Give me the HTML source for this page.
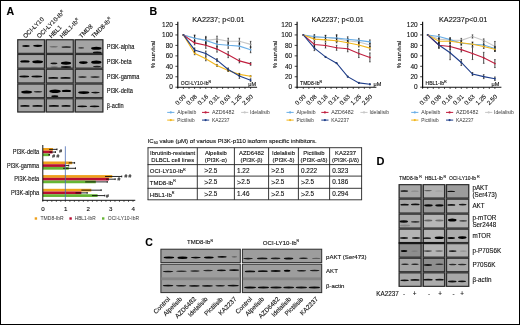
<!DOCTYPE html>
<html><head><meta charset="utf-8"><style>
html,body{margin:0;padding:0;background:#fff;overflow:hidden;}
svg{display:block;font-family:"Liberation Sans", sans-serif;will-change:transform;}
</style></head><body>
<svg width="520" height="325" viewBox="0 0 520 325">
<defs><filter id="bb" x="-20%" y="-100%" width="140%" height="300%"><feGaussianBlur stdDeviation="0.35"/></filter></defs>
<rect x="0" y="0" width="520" height="325" fill="#fff"/>
<rect x="0.50" y="0.50" width="519.00" height="324.00" fill="none" stroke="#000" stroke-width="1"/>
<text x="6.40" y="14.75" font-size="10.6" text-anchor="start" font-weight="bold" fill="#000" stroke="#000" stroke-width="0.12">A</text>
<text x="25.50" y="38.50" font-size="6.1" text-anchor="start" fill="#111" stroke="#111" stroke-width="0.12" transform="rotate(-45 25.50 38.50)">OCI-LY10</text>
<text x="39.30" y="38.50" font-size="6.1" text-anchor="start" fill="#111" stroke="#111" stroke-width="0.12" transform="rotate(-45 39.30 38.50)">OCI-LY10-Ib<tspan dy="-2.4" font-size="3.7">R</tspan></text>
<text x="51.40" y="38.50" font-size="6.1" text-anchor="start" fill="#111" stroke="#111" stroke-width="0.12" transform="rotate(-45 51.40 38.50)">HBL1</text>
<text x="62.30" y="38.50" font-size="6.1" text-anchor="start" fill="#111" stroke="#111" stroke-width="0.12" transform="rotate(-45 62.30 38.50)">HBL1-Ib<tspan dy="-2.4" font-size="3.7">R</tspan></text>
<text x="81.40" y="38.50" font-size="6.1" text-anchor="start" fill="#111" stroke="#111" stroke-width="0.12" transform="rotate(-45 81.40 38.50)">TMD8</text>
<text x="93.70" y="38.50" font-size="6.1" text-anchor="start" fill="#111" stroke="#111" stroke-width="0.12" transform="rotate(-45 93.70 38.50)">TMD8-Ib<tspan dy="-2.4" font-size="3.7">R</tspan></text>
<rect x="17.20" y="39.20" width="86.20" height="73.30" fill="#8c8c8c"/>
<rect x="17.77" y="39.78" width="26.65" height="13.55" fill="#a4a4a4" stroke="#2c2c2c" stroke-width="1.15"/>
<g filter="url(#bb)">
<ellipse cx="26.00" cy="46.00" rx="3.70" ry="0.90" fill="#000" fill-opacity="0.95"/>
<ellipse cx="37.75" cy="45.80" rx="4.55" ry="1.10" fill="#000"/>
</g>
<rect x="46.38" y="39.78" width="26.85" height="13.55" fill="#a4a4a4" stroke="#2c2c2c" stroke-width="1.15"/>
<g filter="url(#bb)">
<ellipse cx="53.75" cy="46.70" rx="4.15" ry="0.75" fill="#000" fill-opacity="0.35"/>
<ellipse cx="66.30" cy="47.00" rx="4.90" ry="0.85" fill="#000" fill-opacity="0.85"/>
</g>
<rect x="75.38" y="39.78" width="27.45" height="13.55" fill="#a4a4a4" stroke="#2c2c2c" stroke-width="1.15"/>
<g filter="url(#bb)">
<ellipse cx="81.15" cy="47.90" rx="3.05" ry="0.80" fill="#000" fill-opacity="0.6"/>
<ellipse cx="96.30" cy="48.20" rx="5.20" ry="1.50" fill="#000"/>
<ellipse cx="97.20" cy="52.40" rx="4.30" ry="0.90" fill="#000" fill-opacity="0.9"/>
</g>
<rect x="17.77" y="54.48" width="26.65" height="13.65" fill="#a4a4a4" stroke="#2c2c2c" stroke-width="1.15"/>
<g filter="url(#bb)">
<ellipse cx="24.95" cy="61.40" rx="4.75" ry="1.20" fill="#000"/>
<ellipse cx="37.65" cy="61.70" rx="5.35" ry="1.50" fill="#000"/>
</g>
<rect x="46.38" y="54.48" width="26.85" height="13.65" fill="#a4a4a4" stroke="#2c2c2c" stroke-width="1.15"/>
<g filter="url(#bb)">
<ellipse cx="53.95" cy="63.40" rx="3.45" ry="0.80" fill="#000" fill-opacity="0.9"/>
<ellipse cx="66.00" cy="63.10" rx="5.20" ry="1.60" fill="#000"/>
<ellipse cx="66.00" cy="67.00" rx="5.20" ry="0.90" fill="#000" fill-opacity="0.85"/>
<ellipse cx="54.25" cy="67.00" rx="3.75" ry="0.70" fill="#000" fill-opacity="0.3"/>
</g>
<rect x="75.38" y="54.48" width="27.45" height="13.65" fill="#a4a4a4" stroke="#2c2c2c" stroke-width="1.15"/>
<g filter="url(#bb)">
<ellipse cx="83.35" cy="62.60" rx="4.35" ry="1.30" fill="#000"/>
<ellipse cx="96.30" cy="62.20" rx="5.20" ry="1.60" fill="#000"/>
<ellipse cx="97.00" cy="66.50" rx="4.00" ry="0.80" fill="#000" fill-opacity="0.8"/>
</g>
<rect x="17.77" y="69.28" width="26.65" height="13.65" fill="#a4a4a4" stroke="#2c2c2c" stroke-width="1.15"/>
<g filter="url(#bb)">
<ellipse cx="24.25" cy="76.50" rx="4.95" ry="0.90" fill="#000" fill-opacity="0.95"/>
<ellipse cx="36.85" cy="76.50" rx="5.45" ry="0.90" fill="#000" fill-opacity="0.95"/>
</g>
<rect x="46.38" y="69.28" width="26.85" height="13.65" fill="#a4a4a4" stroke="#2c2c2c" stroke-width="1.15"/>
<g filter="url(#bb)">
<ellipse cx="53.25" cy="77.90" rx="5.05" ry="0.95" fill="#000" fill-opacity="0.95"/>
<ellipse cx="65.50" cy="77.90" rx="5.20" ry="0.95" fill="#000" fill-opacity="0.95"/>
</g>
<rect x="75.38" y="69.28" width="27.45" height="13.65" fill="#a4a4a4" stroke="#2c2c2c" stroke-width="1.15"/>
<g filter="url(#bb)">
<ellipse cx="82.45" cy="77.00" rx="4.35" ry="0.80" fill="#000" fill-opacity="0.85"/>
<ellipse cx="95.05" cy="77.00" rx="4.75" ry="0.80" fill="#000" fill-opacity="0.85"/>
</g>
<rect x="17.77" y="84.08" width="26.65" height="13.55" fill="#a4a4a4" stroke="#2c2c2c" stroke-width="1.15"/>
<g filter="url(#bb)">
<ellipse cx="26.65" cy="92.10" rx="5.65" ry="1.50" fill="#000"/>
<ellipse cx="38.00" cy="91.70" rx="4.30" ry="0.80" fill="#000" fill-opacity="0.8"/>
</g>
<rect x="46.38" y="84.08" width="26.85" height="13.55" fill="#a4a4a4" stroke="#2c2c2c" stroke-width="1.15"/>
<g filter="url(#bb)">
<ellipse cx="55.05" cy="91.20" rx="5.75" ry="1.80" fill="#000"/>
<ellipse cx="66.45" cy="90.90" rx="4.75" ry="1.20" fill="#000"/>
<ellipse cx="54.80" cy="96.20" rx="3.50" ry="1.00" fill="#000" fill-opacity="0.95"/>
</g>
<rect x="75.38" y="84.08" width="27.45" height="13.55" fill="#a4a4a4" stroke="#2c2c2c" stroke-width="1.15"/>
<g filter="url(#bb)">
<ellipse cx="83.75" cy="92.60" rx="5.65" ry="1.30" fill="#000"/>
<ellipse cx="95.45" cy="92.60" rx="4.35" ry="0.80" fill="#000" fill-opacity="0.9"/>
</g>
<rect x="17.77" y="98.78" width="26.65" height="13.15" fill="#a4a4a4" stroke="#2c2c2c" stroke-width="1.15"/>
<g filter="url(#bb)">
<ellipse cx="24.95" cy="105.90" rx="4.75" ry="0.90" fill="#000" fill-opacity="0.95"/>
<ellipse cx="37.50" cy="105.90" rx="5.20" ry="0.90" fill="#000" fill-opacity="0.95"/>
</g>
<rect x="46.38" y="98.78" width="26.85" height="13.15" fill="#a4a4a4" stroke="#2c2c2c" stroke-width="1.15"/>
<g filter="url(#bb)">
<ellipse cx="53.90" cy="105.90" rx="5.20" ry="0.90" fill="#000" fill-opacity="0.95"/>
<ellipse cx="66.05" cy="105.90" rx="4.65" ry="0.90" fill="#000" fill-opacity="0.95"/>
</g>
<rect x="75.38" y="98.78" width="27.45" height="13.15" fill="#a4a4a4" stroke="#2c2c2c" stroke-width="1.15"/>
<g filter="url(#bb)">
<ellipse cx="82.25" cy="106.30" rx="4.95" ry="0.90" fill="#000" fill-opacity="0.95"/>
<ellipse cx="94.55" cy="106.30" rx="4.85" ry="0.90" fill="#000" fill-opacity="0.95"/>
</g>
<text x="106.70" y="49.05" font-size="6.3" text-anchor="start" fill="#111" stroke="#111" stroke-width="0.12" textLength="27.74" lengthAdjust="spacingAndGlyphs">PI3K-alpha</text>
<text x="106.70" y="63.80" font-size="6.3" text-anchor="start" fill="#111" stroke="#111" stroke-width="0.12" textLength="24.94" lengthAdjust="spacingAndGlyphs">PI3K-beta</text>
<text x="106.70" y="78.60" font-size="6.3" text-anchor="start" fill="#111" stroke="#111" stroke-width="0.12" textLength="32.72" lengthAdjust="spacingAndGlyphs">PI3K-gamma</text>
<text x="106.70" y="93.35" font-size="6.3" text-anchor="start" fill="#111" stroke="#111" stroke-width="0.12" textLength="26.18" lengthAdjust="spacingAndGlyphs">PI3K-delta</text>
<text x="106.70" y="107.85" font-size="6.3" text-anchor="start" fill="#111" stroke="#111" stroke-width="0.12" textLength="16.94" lengthAdjust="spacingAndGlyphs">&#946;-actin</text>
<rect x="42.80" y="148.00" width="10.15" height="2.72" fill="#eea01a"/>
<line x1="49.11" y1="149.36" x2="57.01" y2="149.36" stroke="#000" stroke-width="0.85"/>
<line x1="57.01" y1="148.46" x2="57.01" y2="150.26" stroke="#000" stroke-width="0.85"/>
<rect x="42.80" y="150.72" width="9.70" height="2.72" fill="#b80d32"/>
<line x1="49.56" y1="152.08" x2="55.43" y2="152.08" stroke="#000" stroke-width="0.85"/>
<line x1="55.43" y1="151.18" x2="55.43" y2="152.98" stroke="#000" stroke-width="0.85"/>
<rect x="42.80" y="153.44" width="6.31" height="2.72" fill="#66b535"/>
<line x1="48.21" y1="154.80" x2="49.56" y2="154.80" stroke="#000" stroke-width="0.85"/>
<line x1="49.56" y1="153.90" x2="49.56" y2="155.70" stroke="#000" stroke-width="0.85"/>
<text x="39.20" y="153.90" font-size="6.4" text-anchor="end" fill="#111" stroke="#111" stroke-width="0.12" textLength="26.50" lengthAdjust="spacingAndGlyphs">PI3K-delta</text>
<rect x="42.80" y="161.50" width="29.31" height="2.72" fill="#eea01a"/>
<line x1="68.73" y1="162.86" x2="74.60" y2="162.86" stroke="#000" stroke-width="0.85"/>
<line x1="74.60" y1="161.96" x2="74.60" y2="163.76" stroke="#000" stroke-width="0.85"/>
<rect x="42.80" y="164.22" width="22.55" height="2.72" fill="#b80d32"/>
<line x1="64.45" y1="165.58" x2="68.73" y2="165.58" stroke="#000" stroke-width="0.85"/>
<line x1="68.73" y1="164.68" x2="68.73" y2="166.48" stroke="#000" stroke-width="0.85"/>
<rect x="42.80" y="166.94" width="25.93" height="2.72" fill="#66b535"/>
<line x1="63.09" y1="168.30" x2="75.50" y2="168.30" stroke="#000" stroke-width="0.85"/>
<line x1="75.50" y1="167.40" x2="75.50" y2="169.20" stroke="#000" stroke-width="0.85"/>
<text x="39.20" y="168.00" font-size="6.4" text-anchor="end" fill="#111" stroke="#111" stroke-width="0.12" textLength="32.30" lengthAdjust="spacingAndGlyphs">PI3K-gamma</text>
<rect x="42.80" y="175.10" width="69.45" height="2.72" fill="#eea01a"/>
<line x1="105.04" y1="176.46" x2="121.72" y2="176.46" stroke="#000" stroke-width="0.85"/>
<line x1="121.72" y1="175.56" x2="121.72" y2="177.36" stroke="#000" stroke-width="0.85"/>
<rect x="42.80" y="177.82" width="66.07" height="2.72" fill="#b80d32"/>
<line x1="106.17" y1="179.18" x2="115.19" y2="179.18" stroke="#000" stroke-width="0.85"/>
<line x1="115.19" y1="178.28" x2="115.19" y2="180.08" stroke="#000" stroke-width="0.85"/>
<rect x="42.80" y="180.54" width="52.99" height="2.72" fill="#66b535"/>
<line x1="85.19" y1="181.90" x2="107.29" y2="181.90" stroke="#000" stroke-width="0.85"/>
<line x1="107.29" y1="181.00" x2="107.29" y2="182.80" stroke="#000" stroke-width="0.85"/>
<text x="39.20" y="181.40" font-size="6.4" text-anchor="end" fill="#111" stroke="#111" stroke-width="0.12" textLength="24.90" lengthAdjust="spacingAndGlyphs">PI3K-beta</text>
<rect x="42.80" y="188.80" width="48.48" height="2.72" fill="#eea01a"/>
<line x1="81.36" y1="190.16" x2="101.20" y2="190.16" stroke="#000" stroke-width="0.85"/>
<line x1="101.20" y1="189.26" x2="101.20" y2="191.06" stroke="#000" stroke-width="0.85"/>
<rect x="42.80" y="191.52" width="38.56" height="2.72" fill="#b80d32"/>
<line x1="75.50" y1="192.88" x2="87.22" y2="192.88" stroke="#000" stroke-width="0.85"/>
<line x1="87.22" y1="191.98" x2="87.22" y2="193.78" stroke="#000" stroke-width="0.85"/>
<rect x="42.80" y="194.24" width="54.80" height="2.72" fill="#66b535"/>
<line x1="91.96" y1="195.60" x2="104.81" y2="195.60" stroke="#000" stroke-width="0.85"/>
<line x1="104.81" y1="194.70" x2="104.81" y2="196.50" stroke="#000" stroke-width="0.85"/>
<text x="39.20" y="194.90" font-size="6.4" text-anchor="end" fill="#111" stroke="#111" stroke-width="0.12" textLength="28.30" lengthAdjust="spacingAndGlyphs">PI3K-alpha</text>
<text x="59.20" y="153.30" font-size="5" text-anchor="start" fill="#333" stroke="#333" stroke-width="0.12">#</text>
<text x="52.30" y="158.20" font-size="5" text-anchor="start" fill="#333" stroke="#333" stroke-width="0.12"># #</text>
<text x="124.40" y="177.90" font-size="5" text-anchor="start" fill="#333" stroke="#333" stroke-width="0.12"># #</text>
<text x="117.60" y="181.00" font-size="5" text-anchor="start" fill="#333" stroke="#333" stroke-width="0.12">#</text>
<text x="105.90" y="198.20" font-size="5" text-anchor="start" fill="#333" stroke="#333" stroke-width="0.12">#</text>
<line x1="65.35" y1="146.30" x2="65.35" y2="200.30" stroke="#4a6db5" stroke-width="0.8"/>
<line x1="42.80" y1="145.00" x2="42.80" y2="200.80" stroke="#111" stroke-width="1.0"/>
<line x1="42.30" y1="200.30" x2="135.25" y2="200.30" stroke="#111" stroke-width="1.0"/>
<line x1="42.80" y1="200.30" x2="42.80" y2="202.00" stroke="#111" stroke-width="0.6"/>
<line x1="47.31" y1="200.30" x2="47.31" y2="202.00" stroke="#111" stroke-width="0.6"/>
<line x1="51.82" y1="200.30" x2="51.82" y2="202.00" stroke="#111" stroke-width="0.6"/>
<line x1="56.33" y1="200.30" x2="56.33" y2="202.00" stroke="#111" stroke-width="0.6"/>
<line x1="60.84" y1="200.30" x2="60.84" y2="202.00" stroke="#111" stroke-width="0.6"/>
<line x1="65.35" y1="200.30" x2="65.35" y2="202.00" stroke="#111" stroke-width="0.6"/>
<line x1="69.86" y1="200.30" x2="69.86" y2="202.00" stroke="#111" stroke-width="0.6"/>
<line x1="74.37" y1="200.30" x2="74.37" y2="202.00" stroke="#111" stroke-width="0.6"/>
<line x1="78.88" y1="200.30" x2="78.88" y2="202.00" stroke="#111" stroke-width="0.6"/>
<line x1="83.39" y1="200.30" x2="83.39" y2="202.00" stroke="#111" stroke-width="0.6"/>
<line x1="87.90" y1="200.30" x2="87.90" y2="202.00" stroke="#111" stroke-width="0.6"/>
<line x1="92.41" y1="200.30" x2="92.41" y2="202.00" stroke="#111" stroke-width="0.6"/>
<line x1="96.92" y1="200.30" x2="96.92" y2="202.00" stroke="#111" stroke-width="0.6"/>
<line x1="101.43" y1="200.30" x2="101.43" y2="202.00" stroke="#111" stroke-width="0.6"/>
<line x1="105.94" y1="200.30" x2="105.94" y2="202.00" stroke="#111" stroke-width="0.6"/>
<line x1="110.45" y1="200.30" x2="110.45" y2="202.00" stroke="#111" stroke-width="0.6"/>
<line x1="114.96" y1="200.30" x2="114.96" y2="202.00" stroke="#111" stroke-width="0.6"/>
<line x1="119.47" y1="200.30" x2="119.47" y2="202.00" stroke="#111" stroke-width="0.6"/>
<line x1="123.98" y1="200.30" x2="123.98" y2="202.00" stroke="#111" stroke-width="0.6"/>
<line x1="128.49" y1="200.30" x2="128.49" y2="202.00" stroke="#111" stroke-width="0.6"/>
<line x1="133.00" y1="200.30" x2="133.00" y2="202.00" stroke="#111" stroke-width="0.6"/>
<text x="43.10" y="211.20" font-size="6.2" text-anchor="middle" fill="#111" stroke="#111" stroke-width="0.12">0</text>
<text x="65.65" y="211.20" font-size="6.2" text-anchor="middle" fill="#111" stroke="#111" stroke-width="0.12">1</text>
<text x="88.20" y="211.20" font-size="6.2" text-anchor="middle" fill="#111" stroke="#111" stroke-width="0.12">2</text>
<text x="110.75" y="211.20" font-size="6.2" text-anchor="middle" fill="#111" stroke="#111" stroke-width="0.12">3</text>
<text x="133.30" y="211.20" font-size="6.2" text-anchor="middle" fill="#111" stroke="#111" stroke-width="0.12">4</text>
<rect x="34.70" y="217.30" width="2.40" height="2.40" fill="#eea01a"/>
<text x="40.50" y="220.40" font-size="5.8" text-anchor="start" fill="#333" textLength="23.20" lengthAdjust="spacingAndGlyphs">TMD8-IbR</text>
<rect x="69.40" y="217.30" width="2.40" height="2.40" fill="#b80d32"/>
<text x="74.70" y="220.40" font-size="5.8" text-anchor="start" fill="#333" textLength="21.00" lengthAdjust="spacingAndGlyphs">HBL1-IbR</text>
<rect x="102.00" y="217.30" width="2.40" height="2.40" fill="#66b535"/>
<text x="107.80" y="220.40" font-size="5.8" text-anchor="start" fill="#333" textLength="31.20" lengthAdjust="spacingAndGlyphs">OCI-LY10-IbR</text>
<text x="149.60" y="14.80" font-size="10.6" text-anchor="start" font-weight="bold" fill="#000" stroke="#000" stroke-width="0.12">B</text>
<text x="218.40" y="22.10" font-size="7.0" text-anchor="middle" fill="#111" stroke="#111" stroke-width="0.12" textLength="52.40" lengthAdjust="spacingAndGlyphs">KA2237; p&lt;0.01</text>
<line x1="177.80" y1="21.80" x2="177.80" y2="88.00" stroke="#111" stroke-width="1.2"/>
<line x1="175.40" y1="87.20" x2="177.80" y2="87.20" stroke="#111" stroke-width="0.8"/>
<text x="172.90" y="89.40" font-size="6.5" text-anchor="end" fill="#111" stroke="#111" stroke-width="0.12">0</text>
<line x1="175.40" y1="76.75" x2="177.80" y2="76.75" stroke="#111" stroke-width="0.8"/>
<text x="172.90" y="78.95" font-size="6.5" text-anchor="end" fill="#111" stroke="#111" stroke-width="0.12">20</text>
<line x1="175.40" y1="66.30" x2="177.80" y2="66.30" stroke="#111" stroke-width="0.8"/>
<text x="172.90" y="68.50" font-size="6.5" text-anchor="end" fill="#111" stroke="#111" stroke-width="0.12">40</text>
<line x1="175.40" y1="55.85" x2="177.80" y2="55.85" stroke="#111" stroke-width="0.8"/>
<text x="172.90" y="58.05" font-size="6.5" text-anchor="end" fill="#111" stroke="#111" stroke-width="0.12">60</text>
<line x1="175.40" y1="45.40" x2="177.80" y2="45.40" stroke="#111" stroke-width="0.8"/>
<text x="172.90" y="47.60" font-size="6.5" text-anchor="end" fill="#111" stroke="#111" stroke-width="0.12">80</text>
<line x1="175.40" y1="34.95" x2="177.80" y2="34.95" stroke="#111" stroke-width="0.8"/>
<text x="172.90" y="37.15" font-size="6.5" text-anchor="end" fill="#111" stroke="#111" stroke-width="0.12">100</text>
<line x1="175.40" y1="24.50" x2="177.80" y2="24.50" stroke="#111" stroke-width="0.8"/>
<text x="172.90" y="26.70" font-size="6.5" text-anchor="end" fill="#111" stroke="#111" stroke-width="0.12">120</text>
<text x="154.80" y="54.50" font-size="6.0" text-anchor="middle" fill="#111" stroke="#111" stroke-width="0.12" transform="rotate(-90 154.80 54.50)">% survival</text>
<line x1="177.30" y1="87.20" x2="257.10" y2="87.20" stroke="#111" stroke-width="1.1"/>
<line x1="183.40" y1="87.20" x2="183.40" y2="89.00" stroke="#111" stroke-width="0.7"/>
<line x1="189.00" y1="87.20" x2="189.00" y2="89.00" stroke="#111" stroke-width="0.7"/>
<line x1="194.60" y1="87.20" x2="194.60" y2="89.00" stroke="#111" stroke-width="0.7"/>
<line x1="200.20" y1="87.20" x2="200.20" y2="89.00" stroke="#111" stroke-width="0.7"/>
<line x1="205.80" y1="87.20" x2="205.80" y2="89.00" stroke="#111" stroke-width="0.7"/>
<line x1="211.40" y1="87.20" x2="211.40" y2="89.00" stroke="#111" stroke-width="0.7"/>
<line x1="217.00" y1="87.20" x2="217.00" y2="89.00" stroke="#111" stroke-width="0.7"/>
<line x1="222.60" y1="87.20" x2="222.60" y2="89.00" stroke="#111" stroke-width="0.7"/>
<line x1="228.20" y1="87.20" x2="228.20" y2="89.00" stroke="#111" stroke-width="0.7"/>
<line x1="233.80" y1="87.20" x2="233.80" y2="89.00" stroke="#111" stroke-width="0.7"/>
<line x1="239.40" y1="87.20" x2="239.40" y2="89.00" stroke="#111" stroke-width="0.7"/>
<line x1="245.00" y1="87.20" x2="245.00" y2="89.00" stroke="#111" stroke-width="0.7"/>
<line x1="250.60" y1="87.20" x2="250.60" y2="89.00" stroke="#111" stroke-width="0.7"/>
<line x1="177.80" y1="87.20" x2="177.80" y2="89.00" stroke="#111" stroke-width="0.7"/>
<text x="186.20" y="97.10" font-size="6.2" text-anchor="end" fill="#111" stroke="#111" stroke-width="0.12" transform="rotate(-45 186.20 97.10)">0.00</text>
<text x="197.40" y="97.10" font-size="6.2" text-anchor="end" fill="#111" stroke="#111" stroke-width="0.12" transform="rotate(-45 197.40 97.10)">0.08</text>
<text x="208.60" y="97.10" font-size="6.2" text-anchor="end" fill="#111" stroke="#111" stroke-width="0.12" transform="rotate(-45 208.60 97.10)">0.16</text>
<text x="219.80" y="97.10" font-size="6.2" text-anchor="end" fill="#111" stroke="#111" stroke-width="0.12" transform="rotate(-45 219.80 97.10)">0.31</text>
<text x="231.00" y="97.10" font-size="6.2" text-anchor="end" fill="#111" stroke="#111" stroke-width="0.12" transform="rotate(-45 231.00 97.10)">0.63</text>
<text x="242.20" y="97.10" font-size="6.2" text-anchor="end" fill="#111" stroke="#111" stroke-width="0.12" transform="rotate(-45 242.20 97.10)">1.25</text>
<text x="253.40" y="97.10" font-size="6.2" text-anchor="end" fill="#111" stroke="#111" stroke-width="0.12" transform="rotate(-45 253.40 97.10)">2.50</text>
<polyline points="183.40,34.95 194.60,38.09 205.80,40.38 217.00,39.13 228.20,41.22 239.40,41.22 250.60,44.36" fill="none" stroke="#c8c8c8" stroke-width="1.1"/>
<polyline points="183.40,34.95 194.60,38.29 205.80,40.38 217.00,44.20 228.20,45.30 239.40,46.13 250.60,49.74" fill="none" stroke="#6aaee6" stroke-width="1.1"/>
<polyline points="183.40,34.95 194.60,42.89 205.80,45.30 217.00,49.11 228.20,54.65 239.40,60.87 250.60,63.90" fill="none" stroke="#c01e3e" stroke-width="1.1"/>
<polyline points="183.40,34.95 194.60,53.24 205.80,58.78 217.00,65.41 228.20,70.48 239.40,74.35 250.60,76.23" fill="none" stroke="#f2b61c" stroke-width="1.1"/>
<polyline points="183.40,34.95 194.60,49.95 205.80,53.55 217.00,60.08 228.20,69.44 239.40,76.07 250.60,80.15" fill="none" stroke="#1f3e8a" stroke-width="1.1"/>
<ellipse cx="183.40" cy="34.95" rx="0.90" ry="0.90" fill="#999"/>
<line x1="194.60" y1="35.09" x2="194.60" y2="41.09" stroke="#111" stroke-width="0.75"/>
<line x1="193.80" y1="35.09" x2="195.40" y2="35.09" stroke="#111" stroke-width="0.6"/>
<line x1="193.80" y1="41.09" x2="195.40" y2="41.09" stroke="#111" stroke-width="0.6"/>
<ellipse cx="194.60" cy="38.09" rx="0.90" ry="0.90" fill="#999"/>
<line x1="205.80" y1="36.38" x2="205.80" y2="44.38" stroke="#111" stroke-width="0.75"/>
<line x1="205.00" y1="36.38" x2="206.60" y2="36.38" stroke="#111" stroke-width="0.6"/>
<line x1="205.00" y1="44.38" x2="206.60" y2="44.38" stroke="#111" stroke-width="0.6"/>
<ellipse cx="205.80" cy="40.38" rx="0.90" ry="0.90" fill="#999"/>
<line x1="217.00" y1="36.13" x2="217.00" y2="42.13" stroke="#111" stroke-width="0.75"/>
<line x1="216.20" y1="36.13" x2="217.80" y2="36.13" stroke="#111" stroke-width="0.6"/>
<line x1="216.20" y1="42.13" x2="217.80" y2="42.13" stroke="#111" stroke-width="0.6"/>
<ellipse cx="217.00" cy="39.13" rx="0.90" ry="0.90" fill="#999"/>
<line x1="228.20" y1="38.22" x2="228.20" y2="44.22" stroke="#111" stroke-width="0.75"/>
<line x1="227.40" y1="38.22" x2="229.00" y2="38.22" stroke="#111" stroke-width="0.6"/>
<line x1="227.40" y1="44.22" x2="229.00" y2="44.22" stroke="#111" stroke-width="0.6"/>
<ellipse cx="228.20" cy="41.22" rx="0.90" ry="0.90" fill="#999"/>
<line x1="239.40" y1="38.22" x2="239.40" y2="44.22" stroke="#111" stroke-width="0.75"/>
<line x1="238.60" y1="38.22" x2="240.20" y2="38.22" stroke="#111" stroke-width="0.6"/>
<line x1="238.60" y1="44.22" x2="240.20" y2="44.22" stroke="#111" stroke-width="0.6"/>
<ellipse cx="239.40" cy="41.22" rx="0.90" ry="0.90" fill="#999"/>
<line x1="250.60" y1="41.36" x2="250.60" y2="47.36" stroke="#111" stroke-width="0.75"/>
<line x1="249.80" y1="41.36" x2="251.40" y2="41.36" stroke="#111" stroke-width="0.6"/>
<line x1="249.80" y1="47.36" x2="251.40" y2="47.36" stroke="#111" stroke-width="0.6"/>
<ellipse cx="250.60" cy="44.36" rx="0.90" ry="0.90" fill="#999"/>
<ellipse cx="183.40" cy="34.95" rx="0.90" ry="0.90" fill="#6aaee6"/>
<line x1="194.60" y1="35.29" x2="194.60" y2="41.29" stroke="#111" stroke-width="0.75"/>
<line x1="193.80" y1="35.29" x2="195.40" y2="35.29" stroke="#111" stroke-width="0.6"/>
<line x1="193.80" y1="41.29" x2="195.40" y2="41.29" stroke="#111" stroke-width="0.6"/>
<ellipse cx="194.60" cy="38.29" rx="0.90" ry="0.90" fill="#6aaee6"/>
<line x1="205.80" y1="37.38" x2="205.80" y2="43.38" stroke="#111" stroke-width="0.75"/>
<line x1="205.00" y1="37.38" x2="206.60" y2="37.38" stroke="#111" stroke-width="0.6"/>
<line x1="205.00" y1="43.38" x2="206.60" y2="43.38" stroke="#111" stroke-width="0.6"/>
<ellipse cx="205.80" cy="40.38" rx="0.90" ry="0.90" fill="#6aaee6"/>
<line x1="217.00" y1="41.20" x2="217.00" y2="47.20" stroke="#111" stroke-width="0.75"/>
<line x1="216.20" y1="41.20" x2="217.80" y2="41.20" stroke="#111" stroke-width="0.6"/>
<line x1="216.20" y1="47.20" x2="217.80" y2="47.20" stroke="#111" stroke-width="0.6"/>
<ellipse cx="217.00" cy="44.20" rx="0.90" ry="0.90" fill="#6aaee6"/>
<line x1="228.20" y1="42.30" x2="228.20" y2="48.30" stroke="#111" stroke-width="0.75"/>
<line x1="227.40" y1="42.30" x2="229.00" y2="42.30" stroke="#111" stroke-width="0.6"/>
<line x1="227.40" y1="48.30" x2="229.00" y2="48.30" stroke="#111" stroke-width="0.6"/>
<ellipse cx="228.20" cy="45.30" rx="0.90" ry="0.90" fill="#6aaee6"/>
<line x1="239.40" y1="43.13" x2="239.40" y2="49.13" stroke="#111" stroke-width="0.75"/>
<line x1="238.60" y1="43.13" x2="240.20" y2="43.13" stroke="#111" stroke-width="0.6"/>
<line x1="238.60" y1="49.13" x2="240.20" y2="49.13" stroke="#111" stroke-width="0.6"/>
<ellipse cx="239.40" cy="46.13" rx="0.90" ry="0.90" fill="#6aaee6"/>
<line x1="250.60" y1="46.74" x2="250.60" y2="52.74" stroke="#111" stroke-width="0.75"/>
<line x1="249.80" y1="46.74" x2="251.40" y2="46.74" stroke="#111" stroke-width="0.6"/>
<line x1="249.80" y1="52.74" x2="251.40" y2="52.74" stroke="#111" stroke-width="0.6"/>
<ellipse cx="250.60" cy="49.74" rx="0.90" ry="0.90" fill="#6aaee6"/>
<ellipse cx="183.40" cy="34.95" rx="0.90" ry="0.90" fill="#c01e3e"/>
<line x1="194.60" y1="40.89" x2="194.60" y2="44.89" stroke="#111" stroke-width="0.75"/>
<line x1="193.80" y1="40.89" x2="195.40" y2="40.89" stroke="#111" stroke-width="0.6"/>
<line x1="193.80" y1="44.89" x2="195.40" y2="44.89" stroke="#111" stroke-width="0.6"/>
<ellipse cx="194.60" cy="42.89" rx="0.90" ry="0.90" fill="#c01e3e"/>
<line x1="205.80" y1="42.30" x2="205.80" y2="48.30" stroke="#111" stroke-width="0.75"/>
<line x1="205.00" y1="42.30" x2="206.60" y2="42.30" stroke="#111" stroke-width="0.6"/>
<line x1="205.00" y1="48.30" x2="206.60" y2="48.30" stroke="#111" stroke-width="0.6"/>
<ellipse cx="205.80" cy="45.30" rx="0.90" ry="0.90" fill="#c01e3e"/>
<line x1="217.00" y1="46.11" x2="217.00" y2="52.11" stroke="#111" stroke-width="0.75"/>
<line x1="216.20" y1="46.11" x2="217.80" y2="46.11" stroke="#111" stroke-width="0.6"/>
<line x1="216.20" y1="52.11" x2="217.80" y2="52.11" stroke="#111" stroke-width="0.6"/>
<ellipse cx="217.00" cy="49.11" rx="0.90" ry="0.90" fill="#c01e3e"/>
<line x1="228.20" y1="51.65" x2="228.20" y2="57.65" stroke="#111" stroke-width="0.75"/>
<line x1="227.40" y1="51.65" x2="229.00" y2="51.65" stroke="#111" stroke-width="0.6"/>
<line x1="227.40" y1="57.65" x2="229.00" y2="57.65" stroke="#111" stroke-width="0.6"/>
<ellipse cx="228.20" cy="54.65" rx="0.90" ry="0.90" fill="#c01e3e"/>
<line x1="239.40" y1="58.87" x2="239.40" y2="62.87" stroke="#111" stroke-width="0.75"/>
<line x1="238.60" y1="58.87" x2="240.20" y2="58.87" stroke="#111" stroke-width="0.6"/>
<line x1="238.60" y1="62.87" x2="240.20" y2="62.87" stroke="#111" stroke-width="0.6"/>
<ellipse cx="239.40" cy="60.87" rx="0.90" ry="0.90" fill="#c01e3e"/>
<line x1="250.60" y1="62.50" x2="250.60" y2="65.30" stroke="#111" stroke-width="0.75"/>
<line x1="249.80" y1="62.50" x2="251.40" y2="62.50" stroke="#111" stroke-width="0.6"/>
<line x1="249.80" y1="65.30" x2="251.40" y2="65.30" stroke="#111" stroke-width="0.6"/>
<ellipse cx="250.60" cy="63.90" rx="0.90" ry="0.90" fill="#c01e3e"/>
<ellipse cx="183.40" cy="34.95" rx="0.90" ry="0.90" fill="#f2b61c"/>
<line x1="194.60" y1="51.74" x2="194.60" y2="54.74" stroke="#111" stroke-width="0.75"/>
<line x1="193.80" y1="51.74" x2="195.40" y2="51.74" stroke="#111" stroke-width="0.6"/>
<line x1="193.80" y1="54.74" x2="195.40" y2="54.74" stroke="#111" stroke-width="0.6"/>
<ellipse cx="194.60" cy="53.24" rx="0.90" ry="0.90" fill="#f2b61c"/>
<line x1="205.80" y1="56.78" x2="205.80" y2="60.78" stroke="#111" stroke-width="0.75"/>
<line x1="205.00" y1="56.78" x2="206.60" y2="56.78" stroke="#111" stroke-width="0.6"/>
<line x1="205.00" y1="60.78" x2="206.60" y2="60.78" stroke="#111" stroke-width="0.6"/>
<ellipse cx="205.80" cy="58.78" rx="0.90" ry="0.90" fill="#f2b61c"/>
<line x1="217.00" y1="64.41" x2="217.00" y2="66.41" stroke="#111" stroke-width="0.75"/>
<line x1="216.20" y1="64.41" x2="217.80" y2="64.41" stroke="#111" stroke-width="0.6"/>
<line x1="216.20" y1="66.41" x2="217.80" y2="66.41" stroke="#111" stroke-width="0.6"/>
<ellipse cx="217.00" cy="65.41" rx="0.90" ry="0.90" fill="#f2b61c"/>
<line x1="228.20" y1="69.48" x2="228.20" y2="71.48" stroke="#111" stroke-width="0.75"/>
<line x1="227.40" y1="69.48" x2="229.00" y2="69.48" stroke="#111" stroke-width="0.6"/>
<line x1="227.40" y1="71.48" x2="229.00" y2="71.48" stroke="#111" stroke-width="0.6"/>
<ellipse cx="228.20" cy="70.48" rx="0.90" ry="0.90" fill="#f2b61c"/>
<line x1="239.40" y1="73.35" x2="239.40" y2="75.35" stroke="#111" stroke-width="0.75"/>
<line x1="238.60" y1="73.35" x2="240.20" y2="73.35" stroke="#111" stroke-width="0.6"/>
<line x1="238.60" y1="75.35" x2="240.20" y2="75.35" stroke="#111" stroke-width="0.6"/>
<ellipse cx="239.40" cy="74.35" rx="0.90" ry="0.90" fill="#f2b61c"/>
<line x1="250.60" y1="75.63" x2="250.60" y2="76.83" stroke="#111" stroke-width="0.75"/>
<line x1="249.80" y1="75.63" x2="251.40" y2="75.63" stroke="#111" stroke-width="0.6"/>
<line x1="249.80" y1="76.83" x2="251.40" y2="76.83" stroke="#111" stroke-width="0.6"/>
<ellipse cx="250.60" cy="76.23" rx="0.90" ry="0.90" fill="#f2b61c"/>
<ellipse cx="183.40" cy="34.95" rx="0.90" ry="0.90" fill="#1f3e8a"/>
<line x1="194.60" y1="47.95" x2="194.60" y2="51.95" stroke="#111" stroke-width="0.75"/>
<line x1="193.80" y1="47.95" x2="195.40" y2="47.95" stroke="#111" stroke-width="0.6"/>
<line x1="193.80" y1="51.95" x2="195.40" y2="51.95" stroke="#111" stroke-width="0.6"/>
<ellipse cx="194.60" cy="49.95" rx="0.90" ry="0.90" fill="#1f3e8a"/>
<line x1="205.80" y1="51.05" x2="205.80" y2="56.05" stroke="#111" stroke-width="0.75"/>
<line x1="205.00" y1="51.05" x2="206.60" y2="51.05" stroke="#111" stroke-width="0.6"/>
<line x1="205.00" y1="56.05" x2="206.60" y2="56.05" stroke="#111" stroke-width="0.6"/>
<ellipse cx="205.80" cy="53.55" rx="0.90" ry="0.90" fill="#1f3e8a"/>
<line x1="217.00" y1="58.58" x2="217.00" y2="61.58" stroke="#111" stroke-width="0.75"/>
<line x1="216.20" y1="58.58" x2="217.80" y2="58.58" stroke="#111" stroke-width="0.6"/>
<line x1="216.20" y1="61.58" x2="217.80" y2="61.58" stroke="#111" stroke-width="0.6"/>
<ellipse cx="217.00" cy="60.08" rx="0.90" ry="0.90" fill="#1f3e8a"/>
<line x1="228.20" y1="67.94" x2="228.20" y2="70.94" stroke="#111" stroke-width="0.75"/>
<line x1="227.40" y1="67.94" x2="229.00" y2="67.94" stroke="#111" stroke-width="0.6"/>
<line x1="227.40" y1="70.94" x2="229.00" y2="70.94" stroke="#111" stroke-width="0.6"/>
<ellipse cx="228.20" cy="69.44" rx="0.90" ry="0.90" fill="#1f3e8a"/>
<line x1="239.40" y1="73.77" x2="239.40" y2="78.37" stroke="#111" stroke-width="0.75"/>
<line x1="238.60" y1="73.77" x2="240.20" y2="73.77" stroke="#111" stroke-width="0.6"/>
<line x1="238.60" y1="78.37" x2="240.20" y2="78.37" stroke="#111" stroke-width="0.6"/>
<ellipse cx="239.40" cy="76.07" rx="0.90" ry="0.90" fill="#1f3e8a"/>
<line x1="250.60" y1="78.75" x2="250.60" y2="81.55" stroke="#111" stroke-width="0.75"/>
<line x1="249.80" y1="78.75" x2="251.40" y2="78.75" stroke="#111" stroke-width="0.6"/>
<line x1="249.80" y1="81.55" x2="251.40" y2="81.55" stroke="#111" stroke-width="0.6"/>
<ellipse cx="250.60" cy="80.15" rx="0.90" ry="0.90" fill="#1f3e8a"/>
<text x="180.80" y="85.20" font-size="5.0" text-anchor="start" fill="#111" stroke="#111" stroke-width="0.12">OCI-LY10-Ib<tspan dy="-2.4" font-size="3.7">R</tspan></text>
<text x="248.20" y="85.60" font-size="5.6" text-anchor="start" fill="#111" stroke="#111" stroke-width="0.12">&#956;M</text>
<line x1="167.20" y1="112.40" x2="174.40" y2="112.40" stroke="#6aaee6" stroke-width="1.0"/>
<ellipse cx="170.80" cy="112.40" rx="1.10" ry="1.10" fill="#6aaee6"/>
<text x="177.30" y="114.40" font-size="5.6" text-anchor="start" fill="#3a3a3a" textLength="19.00" lengthAdjust="spacingAndGlyphs">Alpelisib</text>
<line x1="202.00" y1="112.40" x2="209.20" y2="112.40" stroke="#c01e3e" stroke-width="1.0"/>
<ellipse cx="205.60" cy="112.40" rx="1.10" ry="1.10" fill="#c01e3e"/>
<text x="212.00" y="114.40" font-size="5.6" text-anchor="start" fill="#3a3a3a" textLength="22.40" lengthAdjust="spacingAndGlyphs">AZD6482</text>
<line x1="241.10" y1="112.40" x2="248.30" y2="112.40" stroke="#c8c8c8" stroke-width="1.0"/>
<ellipse cx="244.70" cy="112.40" rx="1.10" ry="1.10" fill="#c8c8c8"/>
<text x="250.10" y="114.40" font-size="5.6" text-anchor="start" fill="#3a3a3a" textLength="19.70" lengthAdjust="spacingAndGlyphs">Idelalisib</text>
<line x1="167.20" y1="120.10" x2="174.40" y2="120.10" stroke="#f2b61c" stroke-width="1.0"/>
<ellipse cx="170.80" cy="120.10" rx="1.10" ry="1.10" fill="#f2b61c"/>
<text x="177.30" y="122.10" font-size="5.6" text-anchor="start" fill="#3a3a3a" textLength="17.30" lengthAdjust="spacingAndGlyphs">Pictilisib</text>
<line x1="202.00" y1="120.10" x2="209.20" y2="120.10" stroke="#1f3e8a" stroke-width="1.0"/>
<ellipse cx="205.60" cy="120.10" rx="1.10" ry="1.10" fill="#1f3e8a"/>
<text x="212.00" y="122.10" font-size="5.6" text-anchor="start" fill="#3a3a3a" textLength="17.60" lengthAdjust="spacingAndGlyphs">KA2237</text>
<text x="337.70" y="22.10" font-size="7.0" text-anchor="middle" fill="#111" stroke="#111" stroke-width="0.12" textLength="52.40" lengthAdjust="spacingAndGlyphs">KA2237; p&lt;0.01</text>
<line x1="297.10" y1="21.80" x2="297.10" y2="88.00" stroke="#111" stroke-width="1.2"/>
<line x1="294.70" y1="87.20" x2="297.10" y2="87.20" stroke="#111" stroke-width="0.8"/>
<text x="292.20" y="89.40" font-size="6.5" text-anchor="end" fill="#111" stroke="#111" stroke-width="0.12">0</text>
<line x1="294.70" y1="76.75" x2="297.10" y2="76.75" stroke="#111" stroke-width="0.8"/>
<text x="292.20" y="78.95" font-size="6.5" text-anchor="end" fill="#111" stroke="#111" stroke-width="0.12">20</text>
<line x1="294.70" y1="66.30" x2="297.10" y2="66.30" stroke="#111" stroke-width="0.8"/>
<text x="292.20" y="68.50" font-size="6.5" text-anchor="end" fill="#111" stroke="#111" stroke-width="0.12">40</text>
<line x1="294.70" y1="55.85" x2="297.10" y2="55.85" stroke="#111" stroke-width="0.8"/>
<text x="292.20" y="58.05" font-size="6.5" text-anchor="end" fill="#111" stroke="#111" stroke-width="0.12">60</text>
<line x1="294.70" y1="45.40" x2="297.10" y2="45.40" stroke="#111" stroke-width="0.8"/>
<text x="292.20" y="47.60" font-size="6.5" text-anchor="end" fill="#111" stroke="#111" stroke-width="0.12">80</text>
<line x1="294.70" y1="34.95" x2="297.10" y2="34.95" stroke="#111" stroke-width="0.8"/>
<text x="292.20" y="37.15" font-size="6.5" text-anchor="end" fill="#111" stroke="#111" stroke-width="0.12">100</text>
<line x1="294.70" y1="24.50" x2="297.10" y2="24.50" stroke="#111" stroke-width="0.8"/>
<text x="292.20" y="26.70" font-size="6.5" text-anchor="end" fill="#111" stroke="#111" stroke-width="0.12">120</text>
<text x="276.50" y="54.50" font-size="6.0" text-anchor="middle" fill="#111" stroke="#111" stroke-width="0.12" transform="rotate(-90 276.50 54.50)">% survival</text>
<line x1="296.60" y1="87.20" x2="376.40" y2="87.20" stroke="#111" stroke-width="1.1"/>
<line x1="303.30" y1="87.20" x2="303.30" y2="89.00" stroke="#111" stroke-width="0.7"/>
<line x1="308.85" y1="87.20" x2="308.85" y2="89.00" stroke="#111" stroke-width="0.7"/>
<line x1="314.40" y1="87.20" x2="314.40" y2="89.00" stroke="#111" stroke-width="0.7"/>
<line x1="319.95" y1="87.20" x2="319.95" y2="89.00" stroke="#111" stroke-width="0.7"/>
<line x1="325.50" y1="87.20" x2="325.50" y2="89.00" stroke="#111" stroke-width="0.7"/>
<line x1="331.05" y1="87.20" x2="331.05" y2="89.00" stroke="#111" stroke-width="0.7"/>
<line x1="336.60" y1="87.20" x2="336.60" y2="89.00" stroke="#111" stroke-width="0.7"/>
<line x1="342.15" y1="87.20" x2="342.15" y2="89.00" stroke="#111" stroke-width="0.7"/>
<line x1="347.70" y1="87.20" x2="347.70" y2="89.00" stroke="#111" stroke-width="0.7"/>
<line x1="353.25" y1="87.20" x2="353.25" y2="89.00" stroke="#111" stroke-width="0.7"/>
<line x1="358.80" y1="87.20" x2="358.80" y2="89.00" stroke="#111" stroke-width="0.7"/>
<line x1="364.35" y1="87.20" x2="364.35" y2="89.00" stroke="#111" stroke-width="0.7"/>
<line x1="369.90" y1="87.20" x2="369.90" y2="89.00" stroke="#111" stroke-width="0.7"/>
<line x1="297.10" y1="87.20" x2="297.10" y2="89.00" stroke="#111" stroke-width="0.7"/>
<text x="306.10" y="97.10" font-size="6.2" text-anchor="end" fill="#111" stroke="#111" stroke-width="0.12" transform="rotate(-45 306.10 97.10)">0.00</text>
<text x="317.20" y="97.10" font-size="6.2" text-anchor="end" fill="#111" stroke="#111" stroke-width="0.12" transform="rotate(-45 317.20 97.10)">0.08</text>
<text x="328.30" y="97.10" font-size="6.2" text-anchor="end" fill="#111" stroke="#111" stroke-width="0.12" transform="rotate(-45 328.30 97.10)">0.16</text>
<text x="339.40" y="97.10" font-size="6.2" text-anchor="end" fill="#111" stroke="#111" stroke-width="0.12" transform="rotate(-45 339.40 97.10)">0.31</text>
<text x="350.50" y="97.10" font-size="6.2" text-anchor="end" fill="#111" stroke="#111" stroke-width="0.12" transform="rotate(-45 350.50 97.10)">0.63</text>
<text x="361.60" y="97.10" font-size="6.2" text-anchor="end" fill="#111" stroke="#111" stroke-width="0.12" transform="rotate(-45 361.60 97.10)">1.25</text>
<text x="372.70" y="97.10" font-size="6.2" text-anchor="end" fill="#111" stroke="#111" stroke-width="0.12" transform="rotate(-45 372.70 97.10)">2.50</text>
<polyline points="303.30,34.95 314.40,37.56 325.50,37.25 336.60,38.61 347.70,40.70 358.80,42.00 369.90,44.98" fill="none" stroke="#c8c8c8" stroke-width="1.1"/>
<polyline points="303.30,34.95 314.40,36.52 325.50,37.56 336.60,38.09 347.70,39.29 358.80,40.38 369.90,41.90" fill="none" stroke="#6aaee6" stroke-width="1.1"/>
<polyline points="303.30,34.95 314.40,44.51 325.50,45.50 336.60,47.80 347.70,48.80 358.80,53.55 369.90,57.42" fill="none" stroke="#c01e3e" stroke-width="1.1"/>
<polyline points="303.30,34.95 314.40,39.13 325.50,39.86 336.60,40.80 347.70,42.68 358.80,44.98 369.90,48.12" fill="none" stroke="#f2b61c" stroke-width="1.1"/>
<polyline points="303.30,34.95 314.40,48.12 325.50,56.90 336.60,63.17 347.70,76.65 358.80,82.86 369.90,84.27" fill="none" stroke="#1f3e8a" stroke-width="1.1"/>
<ellipse cx="303.30" cy="34.95" rx="0.90" ry="0.90" fill="#999"/>
<line x1="314.40" y1="35.56" x2="314.40" y2="39.56" stroke="#111" stroke-width="0.75"/>
<line x1="313.60" y1="35.56" x2="315.20" y2="35.56" stroke="#111" stroke-width="0.6"/>
<line x1="313.60" y1="39.56" x2="315.20" y2="39.56" stroke="#111" stroke-width="0.6"/>
<ellipse cx="314.40" cy="37.56" rx="0.90" ry="0.90" fill="#999"/>
<line x1="325.50" y1="35.25" x2="325.50" y2="39.25" stroke="#111" stroke-width="0.75"/>
<line x1="324.70" y1="35.25" x2="326.30" y2="35.25" stroke="#111" stroke-width="0.6"/>
<line x1="324.70" y1="39.25" x2="326.30" y2="39.25" stroke="#111" stroke-width="0.6"/>
<ellipse cx="325.50" cy="37.25" rx="0.90" ry="0.90" fill="#999"/>
<line x1="336.60" y1="35.61" x2="336.60" y2="41.61" stroke="#111" stroke-width="0.75"/>
<line x1="335.80" y1="35.61" x2="337.40" y2="35.61" stroke="#111" stroke-width="0.6"/>
<line x1="335.80" y1="41.61" x2="337.40" y2="41.61" stroke="#111" stroke-width="0.6"/>
<ellipse cx="336.60" cy="38.61" rx="0.90" ry="0.90" fill="#999"/>
<line x1="347.70" y1="38.70" x2="347.70" y2="42.70" stroke="#111" stroke-width="0.75"/>
<line x1="346.90" y1="38.70" x2="348.50" y2="38.70" stroke="#111" stroke-width="0.6"/>
<line x1="346.90" y1="42.70" x2="348.50" y2="42.70" stroke="#111" stroke-width="0.6"/>
<ellipse cx="347.70" cy="40.70" rx="0.90" ry="0.90" fill="#999"/>
<line x1="358.80" y1="40.00" x2="358.80" y2="44.00" stroke="#111" stroke-width="0.75"/>
<line x1="358.00" y1="40.00" x2="359.60" y2="40.00" stroke="#111" stroke-width="0.6"/>
<line x1="358.00" y1="44.00" x2="359.60" y2="44.00" stroke="#111" stroke-width="0.6"/>
<ellipse cx="358.80" cy="42.00" rx="0.90" ry="0.90" fill="#999"/>
<line x1="369.90" y1="42.98" x2="369.90" y2="46.98" stroke="#111" stroke-width="0.75"/>
<line x1="369.10" y1="42.98" x2="370.70" y2="42.98" stroke="#111" stroke-width="0.6"/>
<line x1="369.10" y1="46.98" x2="370.70" y2="46.98" stroke="#111" stroke-width="0.6"/>
<ellipse cx="369.90" cy="44.98" rx="0.90" ry="0.90" fill="#999"/>
<ellipse cx="303.30" cy="34.95" rx="0.90" ry="0.90" fill="#6aaee6"/>
<line x1="314.40" y1="34.52" x2="314.40" y2="38.52" stroke="#111" stroke-width="0.75"/>
<line x1="313.60" y1="34.52" x2="315.20" y2="34.52" stroke="#111" stroke-width="0.6"/>
<line x1="313.60" y1="38.52" x2="315.20" y2="38.52" stroke="#111" stroke-width="0.6"/>
<ellipse cx="314.40" cy="36.52" rx="0.90" ry="0.90" fill="#6aaee6"/>
<line x1="325.50" y1="35.56" x2="325.50" y2="39.56" stroke="#111" stroke-width="0.75"/>
<line x1="324.70" y1="35.56" x2="326.30" y2="35.56" stroke="#111" stroke-width="0.6"/>
<line x1="324.70" y1="39.56" x2="326.30" y2="39.56" stroke="#111" stroke-width="0.6"/>
<ellipse cx="325.50" cy="37.56" rx="0.90" ry="0.90" fill="#6aaee6"/>
<line x1="336.60" y1="34.59" x2="336.60" y2="41.59" stroke="#111" stroke-width="0.75"/>
<line x1="335.80" y1="34.59" x2="337.40" y2="34.59" stroke="#111" stroke-width="0.6"/>
<line x1="335.80" y1="41.59" x2="337.40" y2="41.59" stroke="#111" stroke-width="0.6"/>
<ellipse cx="336.60" cy="38.09" rx="0.90" ry="0.90" fill="#6aaee6"/>
<line x1="347.70" y1="36.79" x2="347.70" y2="41.79" stroke="#111" stroke-width="0.75"/>
<line x1="346.90" y1="36.79" x2="348.50" y2="36.79" stroke="#111" stroke-width="0.6"/>
<line x1="346.90" y1="41.79" x2="348.50" y2="41.79" stroke="#111" stroke-width="0.6"/>
<ellipse cx="347.70" cy="39.29" rx="0.90" ry="0.90" fill="#6aaee6"/>
<line x1="358.80" y1="38.38" x2="358.80" y2="42.38" stroke="#111" stroke-width="0.75"/>
<line x1="358.00" y1="38.38" x2="359.60" y2="38.38" stroke="#111" stroke-width="0.6"/>
<line x1="358.00" y1="42.38" x2="359.60" y2="42.38" stroke="#111" stroke-width="0.6"/>
<ellipse cx="358.80" cy="40.38" rx="0.90" ry="0.90" fill="#6aaee6"/>
<line x1="369.90" y1="39.90" x2="369.90" y2="43.90" stroke="#111" stroke-width="0.75"/>
<line x1="369.10" y1="39.90" x2="370.70" y2="39.90" stroke="#111" stroke-width="0.6"/>
<line x1="369.10" y1="43.90" x2="370.70" y2="43.90" stroke="#111" stroke-width="0.6"/>
<ellipse cx="369.90" cy="41.90" rx="0.90" ry="0.90" fill="#6aaee6"/>
<ellipse cx="303.30" cy="34.95" rx="0.90" ry="0.90" fill="#c01e3e"/>
<line x1="314.40" y1="42.01" x2="314.40" y2="47.01" stroke="#111" stroke-width="0.75"/>
<line x1="313.60" y1="42.01" x2="315.20" y2="42.01" stroke="#111" stroke-width="0.6"/>
<line x1="313.60" y1="47.01" x2="315.20" y2="47.01" stroke="#111" stroke-width="0.6"/>
<ellipse cx="314.40" cy="44.51" rx="0.90" ry="0.90" fill="#c01e3e"/>
<line x1="325.50" y1="43.00" x2="325.50" y2="48.00" stroke="#111" stroke-width="0.75"/>
<line x1="324.70" y1="43.00" x2="326.30" y2="43.00" stroke="#111" stroke-width="0.6"/>
<line x1="324.70" y1="48.00" x2="326.30" y2="48.00" stroke="#111" stroke-width="0.6"/>
<ellipse cx="325.50" cy="45.50" rx="0.90" ry="0.90" fill="#c01e3e"/>
<line x1="336.60" y1="45.30" x2="336.60" y2="50.30" stroke="#111" stroke-width="0.75"/>
<line x1="335.80" y1="45.30" x2="337.40" y2="45.30" stroke="#111" stroke-width="0.6"/>
<line x1="335.80" y1="50.30" x2="337.40" y2="50.30" stroke="#111" stroke-width="0.6"/>
<ellipse cx="336.60" cy="47.80" rx="0.90" ry="0.90" fill="#c01e3e"/>
<line x1="347.70" y1="45.80" x2="347.70" y2="51.80" stroke="#111" stroke-width="0.75"/>
<line x1="346.90" y1="45.80" x2="348.50" y2="45.80" stroke="#111" stroke-width="0.6"/>
<line x1="346.90" y1="51.80" x2="348.50" y2="51.80" stroke="#111" stroke-width="0.6"/>
<ellipse cx="347.70" cy="48.80" rx="0.90" ry="0.90" fill="#c01e3e"/>
<line x1="358.80" y1="49.55" x2="358.80" y2="57.55" stroke="#111" stroke-width="0.75"/>
<line x1="358.00" y1="49.55" x2="359.60" y2="49.55" stroke="#111" stroke-width="0.6"/>
<line x1="358.00" y1="57.55" x2="359.60" y2="57.55" stroke="#111" stroke-width="0.6"/>
<ellipse cx="358.80" cy="53.55" rx="0.90" ry="0.90" fill="#c01e3e"/>
<line x1="369.90" y1="52.92" x2="369.90" y2="61.92" stroke="#111" stroke-width="0.75"/>
<line x1="369.10" y1="52.92" x2="370.70" y2="52.92" stroke="#111" stroke-width="0.6"/>
<line x1="369.10" y1="61.92" x2="370.70" y2="61.92" stroke="#111" stroke-width="0.6"/>
<ellipse cx="369.90" cy="57.42" rx="0.90" ry="0.90" fill="#c01e3e"/>
<ellipse cx="303.30" cy="34.95" rx="0.90" ry="0.90" fill="#f2b61c"/>
<line x1="314.40" y1="37.13" x2="314.40" y2="41.13" stroke="#111" stroke-width="0.75"/>
<line x1="313.60" y1="37.13" x2="315.20" y2="37.13" stroke="#111" stroke-width="0.6"/>
<line x1="313.60" y1="41.13" x2="315.20" y2="41.13" stroke="#111" stroke-width="0.6"/>
<ellipse cx="314.40" cy="39.13" rx="0.90" ry="0.90" fill="#f2b61c"/>
<line x1="325.50" y1="37.86" x2="325.50" y2="41.86" stroke="#111" stroke-width="0.75"/>
<line x1="324.70" y1="37.86" x2="326.30" y2="37.86" stroke="#111" stroke-width="0.6"/>
<line x1="324.70" y1="41.86" x2="326.30" y2="41.86" stroke="#111" stroke-width="0.6"/>
<ellipse cx="325.50" cy="39.86" rx="0.90" ry="0.90" fill="#f2b61c"/>
<line x1="336.60" y1="38.80" x2="336.60" y2="42.80" stroke="#111" stroke-width="0.75"/>
<line x1="335.80" y1="38.80" x2="337.40" y2="38.80" stroke="#111" stroke-width="0.6"/>
<line x1="335.80" y1="42.80" x2="337.40" y2="42.80" stroke="#111" stroke-width="0.6"/>
<ellipse cx="336.60" cy="40.80" rx="0.90" ry="0.90" fill="#f2b61c"/>
<line x1="347.70" y1="40.68" x2="347.70" y2="44.68" stroke="#111" stroke-width="0.75"/>
<line x1="346.90" y1="40.68" x2="348.50" y2="40.68" stroke="#111" stroke-width="0.6"/>
<line x1="346.90" y1="44.68" x2="348.50" y2="44.68" stroke="#111" stroke-width="0.6"/>
<ellipse cx="347.70" cy="42.68" rx="0.90" ry="0.90" fill="#f2b61c"/>
<line x1="358.80" y1="42.98" x2="358.80" y2="46.98" stroke="#111" stroke-width="0.75"/>
<line x1="358.00" y1="42.98" x2="359.60" y2="42.98" stroke="#111" stroke-width="0.6"/>
<line x1="358.00" y1="46.98" x2="359.60" y2="46.98" stroke="#111" stroke-width="0.6"/>
<ellipse cx="358.80" cy="44.98" rx="0.90" ry="0.90" fill="#f2b61c"/>
<line x1="369.90" y1="46.12" x2="369.90" y2="50.12" stroke="#111" stroke-width="0.75"/>
<line x1="369.10" y1="46.12" x2="370.70" y2="46.12" stroke="#111" stroke-width="0.6"/>
<line x1="369.10" y1="50.12" x2="370.70" y2="50.12" stroke="#111" stroke-width="0.6"/>
<ellipse cx="369.90" cy="48.12" rx="0.90" ry="0.90" fill="#f2b61c"/>
<ellipse cx="303.30" cy="34.95" rx="0.90" ry="0.90" fill="#1f3e8a"/>
<line x1="314.40" y1="45.62" x2="314.40" y2="50.62" stroke="#111" stroke-width="0.75"/>
<line x1="313.60" y1="45.62" x2="315.20" y2="45.62" stroke="#111" stroke-width="0.6"/>
<line x1="313.60" y1="50.62" x2="315.20" y2="50.62" stroke="#111" stroke-width="0.6"/>
<ellipse cx="314.40" cy="48.12" rx="0.90" ry="0.90" fill="#1f3e8a"/>
<line x1="325.50" y1="56.40" x2="325.50" y2="57.40" stroke="#111" stroke-width="0.75"/>
<line x1="324.70" y1="56.40" x2="326.30" y2="56.40" stroke="#111" stroke-width="0.6"/>
<line x1="324.70" y1="57.40" x2="326.30" y2="57.40" stroke="#111" stroke-width="0.6"/>
<ellipse cx="325.50" cy="56.90" rx="0.90" ry="0.90" fill="#1f3e8a"/>
<line x1="336.60" y1="62.67" x2="336.60" y2="63.67" stroke="#111" stroke-width="0.75"/>
<line x1="335.80" y1="62.67" x2="337.40" y2="62.67" stroke="#111" stroke-width="0.6"/>
<line x1="335.80" y1="63.67" x2="337.40" y2="63.67" stroke="#111" stroke-width="0.6"/>
<ellipse cx="336.60" cy="63.17" rx="0.90" ry="0.90" fill="#1f3e8a"/>
<line x1="347.70" y1="76.15" x2="347.70" y2="77.15" stroke="#111" stroke-width="0.75"/>
<line x1="346.90" y1="76.15" x2="348.50" y2="76.15" stroke="#111" stroke-width="0.6"/>
<line x1="346.90" y1="77.15" x2="348.50" y2="77.15" stroke="#111" stroke-width="0.6"/>
<ellipse cx="347.70" cy="76.65" rx="0.90" ry="0.90" fill="#1f3e8a"/>
<line x1="358.80" y1="82.36" x2="358.80" y2="83.36" stroke="#111" stroke-width="0.75"/>
<line x1="358.00" y1="82.36" x2="359.60" y2="82.36" stroke="#111" stroke-width="0.6"/>
<line x1="358.00" y1="83.36" x2="359.60" y2="83.36" stroke="#111" stroke-width="0.6"/>
<ellipse cx="358.80" cy="82.86" rx="0.90" ry="0.90" fill="#1f3e8a"/>
<line x1="369.90" y1="83.77" x2="369.90" y2="84.77" stroke="#111" stroke-width="0.75"/>
<line x1="369.10" y1="83.77" x2="370.70" y2="83.77" stroke="#111" stroke-width="0.6"/>
<line x1="369.10" y1="84.77" x2="370.70" y2="84.77" stroke="#111" stroke-width="0.6"/>
<ellipse cx="369.90" cy="84.27" rx="0.90" ry="0.90" fill="#1f3e8a"/>
<text x="300.10" y="85.20" font-size="5.0" text-anchor="start" fill="#111" stroke="#111" stroke-width="0.12">TMD8-Ib<tspan dy="-2.4" font-size="3.7">R</tspan></text>
<text x="373.50" y="85.60" font-size="5.6" text-anchor="start" fill="#111" stroke="#111" stroke-width="0.12">&#956;M</text>
<line x1="286.50" y1="112.40" x2="293.70" y2="112.40" stroke="#6aaee6" stroke-width="1.0"/>
<ellipse cx="290.10" cy="112.40" rx="1.10" ry="1.10" fill="#6aaee6"/>
<text x="296.60" y="114.40" font-size="5.6" text-anchor="start" fill="#3a3a3a" textLength="19.00" lengthAdjust="spacingAndGlyphs">Alpelisib</text>
<line x1="321.30" y1="112.40" x2="328.50" y2="112.40" stroke="#c01e3e" stroke-width="1.0"/>
<ellipse cx="324.90" cy="112.40" rx="1.10" ry="1.10" fill="#c01e3e"/>
<text x="331.30" y="114.40" font-size="5.6" text-anchor="start" fill="#3a3a3a" textLength="22.40" lengthAdjust="spacingAndGlyphs">AZD6482</text>
<line x1="360.40" y1="112.40" x2="367.60" y2="112.40" stroke="#c8c8c8" stroke-width="1.0"/>
<ellipse cx="364.00" cy="112.40" rx="1.10" ry="1.10" fill="#c8c8c8"/>
<text x="369.40" y="114.40" font-size="5.6" text-anchor="start" fill="#3a3a3a" textLength="19.70" lengthAdjust="spacingAndGlyphs">Idelalisib</text>
<line x1="286.50" y1="120.10" x2="293.70" y2="120.10" stroke="#f2b61c" stroke-width="1.0"/>
<ellipse cx="290.10" cy="120.10" rx="1.10" ry="1.10" fill="#f2b61c"/>
<text x="296.60" y="122.10" font-size="5.6" text-anchor="start" fill="#3a3a3a" textLength="17.30" lengthAdjust="spacingAndGlyphs">Pictilisib</text>
<line x1="321.30" y1="120.10" x2="328.50" y2="120.10" stroke="#1f3e8a" stroke-width="1.0"/>
<ellipse cx="324.90" cy="120.10" rx="1.10" ry="1.10" fill="#1f3e8a"/>
<text x="331.30" y="122.10" font-size="5.6" text-anchor="start" fill="#3a3a3a" textLength="17.60" lengthAdjust="spacingAndGlyphs">KA2237</text>
<text x="463.20" y="22.10" font-size="7.0" text-anchor="middle" fill="#111" stroke="#111" stroke-width="0.12" textLength="48.40" lengthAdjust="spacingAndGlyphs">KA2237p&lt;0.01</text>
<line x1="422.60" y1="21.80" x2="422.60" y2="88.00" stroke="#111" stroke-width="1.2"/>
<line x1="420.20" y1="87.20" x2="422.60" y2="87.20" stroke="#111" stroke-width="0.8"/>
<text x="417.70" y="89.40" font-size="6.5" text-anchor="end" fill="#111" stroke="#111" stroke-width="0.12">0</text>
<line x1="420.20" y1="76.75" x2="422.60" y2="76.75" stroke="#111" stroke-width="0.8"/>
<text x="417.70" y="78.95" font-size="6.5" text-anchor="end" fill="#111" stroke="#111" stroke-width="0.12">20</text>
<line x1="420.20" y1="66.30" x2="422.60" y2="66.30" stroke="#111" stroke-width="0.8"/>
<text x="417.70" y="68.50" font-size="6.5" text-anchor="end" fill="#111" stroke="#111" stroke-width="0.12">40</text>
<line x1="420.20" y1="55.85" x2="422.60" y2="55.85" stroke="#111" stroke-width="0.8"/>
<text x="417.70" y="58.05" font-size="6.5" text-anchor="end" fill="#111" stroke="#111" stroke-width="0.12">60</text>
<line x1="420.20" y1="45.40" x2="422.60" y2="45.40" stroke="#111" stroke-width="0.8"/>
<text x="417.70" y="47.60" font-size="6.5" text-anchor="end" fill="#111" stroke="#111" stroke-width="0.12">80</text>
<line x1="420.20" y1="34.95" x2="422.60" y2="34.95" stroke="#111" stroke-width="0.8"/>
<text x="417.70" y="37.15" font-size="6.5" text-anchor="end" fill="#111" stroke="#111" stroke-width="0.12">100</text>
<line x1="420.20" y1="24.50" x2="422.60" y2="24.50" stroke="#111" stroke-width="0.8"/>
<text x="417.70" y="26.70" font-size="6.5" text-anchor="end" fill="#111" stroke="#111" stroke-width="0.12">120</text>
<text x="400.80" y="54.50" font-size="6.0" text-anchor="middle" fill="#111" stroke="#111" stroke-width="0.12" transform="rotate(-90 400.80 54.50)">% survival</text>
<line x1="422.10" y1="87.20" x2="501.40" y2="87.20" stroke="#111" stroke-width="1.1"/>
<line x1="427.70" y1="87.20" x2="427.70" y2="89.00" stroke="#111" stroke-width="0.7"/>
<line x1="433.30" y1="87.20" x2="433.30" y2="89.00" stroke="#111" stroke-width="0.7"/>
<line x1="438.90" y1="87.20" x2="438.90" y2="89.00" stroke="#111" stroke-width="0.7"/>
<line x1="444.50" y1="87.20" x2="444.50" y2="89.00" stroke="#111" stroke-width="0.7"/>
<line x1="450.10" y1="87.20" x2="450.10" y2="89.00" stroke="#111" stroke-width="0.7"/>
<line x1="455.70" y1="87.20" x2="455.70" y2="89.00" stroke="#111" stroke-width="0.7"/>
<line x1="461.30" y1="87.20" x2="461.30" y2="89.00" stroke="#111" stroke-width="0.7"/>
<line x1="466.90" y1="87.20" x2="466.90" y2="89.00" stroke="#111" stroke-width="0.7"/>
<line x1="472.50" y1="87.20" x2="472.50" y2="89.00" stroke="#111" stroke-width="0.7"/>
<line x1="478.10" y1="87.20" x2="478.10" y2="89.00" stroke="#111" stroke-width="0.7"/>
<line x1="483.70" y1="87.20" x2="483.70" y2="89.00" stroke="#111" stroke-width="0.7"/>
<line x1="489.30" y1="87.20" x2="489.30" y2="89.00" stroke="#111" stroke-width="0.7"/>
<line x1="494.90" y1="87.20" x2="494.90" y2="89.00" stroke="#111" stroke-width="0.7"/>
<line x1="422.60" y1="87.20" x2="422.60" y2="89.00" stroke="#111" stroke-width="0.7"/>
<text x="430.50" y="97.10" font-size="6.2" text-anchor="end" fill="#111" stroke="#111" stroke-width="0.12" transform="rotate(-45 430.50 97.10)">0.00</text>
<text x="441.70" y="97.10" font-size="6.2" text-anchor="end" fill="#111" stroke="#111" stroke-width="0.12" transform="rotate(-45 441.70 97.10)">0.08</text>
<text x="452.90" y="97.10" font-size="6.2" text-anchor="end" fill="#111" stroke="#111" stroke-width="0.12" transform="rotate(-45 452.90 97.10)">0.16</text>
<text x="464.10" y="97.10" font-size="6.2" text-anchor="end" fill="#111" stroke="#111" stroke-width="0.12" transform="rotate(-45 464.10 97.10)">0.31</text>
<text x="475.30" y="97.10" font-size="6.2" text-anchor="end" fill="#111" stroke="#111" stroke-width="0.12" transform="rotate(-45 475.30 97.10)">0.63</text>
<text x="486.50" y="97.10" font-size="6.2" text-anchor="end" fill="#111" stroke="#111" stroke-width="0.12" transform="rotate(-45 486.50 97.10)">1.25</text>
<text x="497.70" y="97.10" font-size="6.2" text-anchor="end" fill="#111" stroke="#111" stroke-width="0.12" transform="rotate(-45 497.70 97.10)">2.50</text>
<polyline points="427.70,34.95 438.90,39.13 450.10,40.18 461.30,40.38 472.50,36.47 483.70,40.38 494.90,46.45" fill="none" stroke="#c8c8c8" stroke-width="1.1"/>
<polyline points="427.70,34.95 438.90,36.52 450.10,39.65 461.30,43.21 472.50,44.20 483.70,44.98 494.90,48.43" fill="none" stroke="#6aaee6" stroke-width="1.1"/>
<polyline points="427.70,34.95 438.90,45.30 450.10,46.50 461.30,49.63 472.50,53.55 483.70,57.84 494.90,63.58" fill="none" stroke="#c01e3e" stroke-width="1.1"/>
<polyline points="427.70,34.95 438.90,41.22 450.10,41.22 461.30,42.68 472.50,44.20 483.70,46.50 494.90,49.32" fill="none" stroke="#f2b61c" stroke-width="1.1"/>
<polyline points="427.70,34.95 438.90,44.98 450.10,52.72 461.30,62.49 472.50,74.03 483.70,76.65 494.90,78.74" fill="none" stroke="#1f3e8a" stroke-width="1.1"/>
<ellipse cx="427.70" cy="34.95" rx="0.90" ry="0.90" fill="#999"/>
<line x1="438.90" y1="37.13" x2="438.90" y2="41.13" stroke="#111" stroke-width="0.75"/>
<line x1="438.10" y1="37.13" x2="439.70" y2="37.13" stroke="#111" stroke-width="0.6"/>
<line x1="438.10" y1="41.13" x2="439.70" y2="41.13" stroke="#111" stroke-width="0.6"/>
<ellipse cx="438.90" cy="39.13" rx="0.90" ry="0.90" fill="#999"/>
<line x1="450.10" y1="38.18" x2="450.10" y2="42.18" stroke="#111" stroke-width="0.75"/>
<line x1="449.30" y1="38.18" x2="450.90" y2="38.18" stroke="#111" stroke-width="0.6"/>
<line x1="449.30" y1="42.18" x2="450.90" y2="42.18" stroke="#111" stroke-width="0.6"/>
<ellipse cx="450.10" cy="40.18" rx="0.90" ry="0.90" fill="#999"/>
<line x1="461.30" y1="38.38" x2="461.30" y2="42.38" stroke="#111" stroke-width="0.75"/>
<line x1="460.50" y1="38.38" x2="462.10" y2="38.38" stroke="#111" stroke-width="0.6"/>
<line x1="460.50" y1="42.38" x2="462.10" y2="42.38" stroke="#111" stroke-width="0.6"/>
<ellipse cx="461.30" cy="40.38" rx="0.90" ry="0.90" fill="#999"/>
<line x1="472.50" y1="34.87" x2="472.50" y2="38.07" stroke="#111" stroke-width="0.75"/>
<line x1="471.70" y1="34.87" x2="473.30" y2="34.87" stroke="#111" stroke-width="0.6"/>
<line x1="471.70" y1="38.07" x2="473.30" y2="38.07" stroke="#111" stroke-width="0.6"/>
<ellipse cx="472.50" cy="36.47" rx="0.90" ry="0.90" fill="#999"/>
<line x1="483.70" y1="38.88" x2="483.70" y2="41.88" stroke="#111" stroke-width="0.75"/>
<line x1="482.90" y1="38.88" x2="484.50" y2="38.88" stroke="#111" stroke-width="0.6"/>
<line x1="482.90" y1="41.88" x2="484.50" y2="41.88" stroke="#111" stroke-width="0.6"/>
<ellipse cx="483.70" cy="40.38" rx="0.90" ry="0.90" fill="#999"/>
<line x1="494.90" y1="41.45" x2="494.90" y2="51.45" stroke="#111" stroke-width="0.75"/>
<line x1="494.10" y1="41.45" x2="495.70" y2="41.45" stroke="#111" stroke-width="0.6"/>
<line x1="494.10" y1="51.45" x2="495.70" y2="51.45" stroke="#111" stroke-width="0.6"/>
<ellipse cx="494.90" cy="46.45" rx="0.90" ry="0.90" fill="#999"/>
<ellipse cx="427.70" cy="34.95" rx="0.90" ry="0.90" fill="#6aaee6"/>
<line x1="438.90" y1="34.52" x2="438.90" y2="38.52" stroke="#111" stroke-width="0.75"/>
<line x1="438.10" y1="34.52" x2="439.70" y2="34.52" stroke="#111" stroke-width="0.6"/>
<line x1="438.10" y1="38.52" x2="439.70" y2="38.52" stroke="#111" stroke-width="0.6"/>
<ellipse cx="438.90" cy="36.52" rx="0.90" ry="0.90" fill="#6aaee6"/>
<line x1="450.10" y1="37.65" x2="450.10" y2="41.65" stroke="#111" stroke-width="0.75"/>
<line x1="449.30" y1="37.65" x2="450.90" y2="37.65" stroke="#111" stroke-width="0.6"/>
<line x1="449.30" y1="41.65" x2="450.90" y2="41.65" stroke="#111" stroke-width="0.6"/>
<ellipse cx="450.10" cy="39.65" rx="0.90" ry="0.90" fill="#6aaee6"/>
<line x1="461.30" y1="41.21" x2="461.30" y2="45.21" stroke="#111" stroke-width="0.75"/>
<line x1="460.50" y1="41.21" x2="462.10" y2="41.21" stroke="#111" stroke-width="0.6"/>
<line x1="460.50" y1="45.21" x2="462.10" y2="45.21" stroke="#111" stroke-width="0.6"/>
<ellipse cx="461.30" cy="43.21" rx="0.90" ry="0.90" fill="#6aaee6"/>
<line x1="472.50" y1="42.20" x2="472.50" y2="46.20" stroke="#111" stroke-width="0.75"/>
<line x1="471.70" y1="42.20" x2="473.30" y2="42.20" stroke="#111" stroke-width="0.6"/>
<line x1="471.70" y1="46.20" x2="473.30" y2="46.20" stroke="#111" stroke-width="0.6"/>
<ellipse cx="472.50" cy="44.20" rx="0.90" ry="0.90" fill="#6aaee6"/>
<line x1="483.70" y1="42.98" x2="483.70" y2="46.98" stroke="#111" stroke-width="0.75"/>
<line x1="482.90" y1="42.98" x2="484.50" y2="42.98" stroke="#111" stroke-width="0.6"/>
<line x1="482.90" y1="46.98" x2="484.50" y2="46.98" stroke="#111" stroke-width="0.6"/>
<ellipse cx="483.70" cy="44.98" rx="0.90" ry="0.90" fill="#6aaee6"/>
<line x1="494.90" y1="46.43" x2="494.90" y2="50.43" stroke="#111" stroke-width="0.75"/>
<line x1="494.10" y1="46.43" x2="495.70" y2="46.43" stroke="#111" stroke-width="0.6"/>
<line x1="494.10" y1="50.43" x2="495.70" y2="50.43" stroke="#111" stroke-width="0.6"/>
<ellipse cx="494.90" cy="48.43" rx="0.90" ry="0.90" fill="#6aaee6"/>
<ellipse cx="427.70" cy="34.95" rx="0.90" ry="0.90" fill="#c01e3e"/>
<line x1="438.90" y1="42.30" x2="438.90" y2="48.30" stroke="#111" stroke-width="0.75"/>
<line x1="438.10" y1="42.30" x2="439.70" y2="42.30" stroke="#111" stroke-width="0.6"/>
<line x1="438.10" y1="48.30" x2="439.70" y2="48.30" stroke="#111" stroke-width="0.6"/>
<ellipse cx="438.90" cy="45.30" rx="0.90" ry="0.90" fill="#c01e3e"/>
<line x1="450.10" y1="43.50" x2="450.10" y2="49.50" stroke="#111" stroke-width="0.75"/>
<line x1="449.30" y1="43.50" x2="450.90" y2="43.50" stroke="#111" stroke-width="0.6"/>
<line x1="449.30" y1="49.50" x2="450.90" y2="49.50" stroke="#111" stroke-width="0.6"/>
<ellipse cx="450.10" cy="46.50" rx="0.90" ry="0.90" fill="#c01e3e"/>
<line x1="461.30" y1="47.33" x2="461.30" y2="51.93" stroke="#111" stroke-width="0.75"/>
<line x1="460.50" y1="47.33" x2="462.10" y2="47.33" stroke="#111" stroke-width="0.6"/>
<line x1="460.50" y1="51.93" x2="462.10" y2="51.93" stroke="#111" stroke-width="0.6"/>
<ellipse cx="461.30" cy="49.63" rx="0.90" ry="0.90" fill="#c01e3e"/>
<line x1="472.50" y1="47.55" x2="472.50" y2="59.55" stroke="#111" stroke-width="0.75"/>
<line x1="471.70" y1="47.55" x2="473.30" y2="47.55" stroke="#111" stroke-width="0.6"/>
<line x1="471.70" y1="59.55" x2="473.30" y2="59.55" stroke="#111" stroke-width="0.6"/>
<ellipse cx="472.50" cy="53.55" rx="0.90" ry="0.90" fill="#c01e3e"/>
<line x1="483.70" y1="52.34" x2="483.70" y2="63.34" stroke="#111" stroke-width="0.75"/>
<line x1="482.90" y1="52.34" x2="484.50" y2="52.34" stroke="#111" stroke-width="0.6"/>
<line x1="482.90" y1="63.34" x2="484.50" y2="63.34" stroke="#111" stroke-width="0.6"/>
<ellipse cx="483.70" cy="57.84" rx="0.90" ry="0.90" fill="#c01e3e"/>
<line x1="494.90" y1="59.58" x2="494.90" y2="67.58" stroke="#111" stroke-width="0.75"/>
<line x1="494.10" y1="59.58" x2="495.70" y2="59.58" stroke="#111" stroke-width="0.6"/>
<line x1="494.10" y1="67.58" x2="495.70" y2="67.58" stroke="#111" stroke-width="0.6"/>
<ellipse cx="494.90" cy="63.58" rx="0.90" ry="0.90" fill="#c01e3e"/>
<ellipse cx="427.70" cy="34.95" rx="0.90" ry="0.90" fill="#f2b61c"/>
<line x1="438.90" y1="38.72" x2="438.90" y2="43.72" stroke="#111" stroke-width="0.75"/>
<line x1="438.10" y1="38.72" x2="439.70" y2="38.72" stroke="#111" stroke-width="0.6"/>
<line x1="438.10" y1="43.72" x2="439.70" y2="43.72" stroke="#111" stroke-width="0.6"/>
<ellipse cx="438.90" cy="41.22" rx="0.90" ry="0.90" fill="#f2b61c"/>
<line x1="450.10" y1="39.22" x2="450.10" y2="43.22" stroke="#111" stroke-width="0.75"/>
<line x1="449.30" y1="39.22" x2="450.90" y2="39.22" stroke="#111" stroke-width="0.6"/>
<line x1="449.30" y1="43.22" x2="450.90" y2="43.22" stroke="#111" stroke-width="0.6"/>
<ellipse cx="450.10" cy="41.22" rx="0.90" ry="0.90" fill="#f2b61c"/>
<line x1="461.30" y1="40.68" x2="461.30" y2="44.68" stroke="#111" stroke-width="0.75"/>
<line x1="460.50" y1="40.68" x2="462.10" y2="40.68" stroke="#111" stroke-width="0.6"/>
<line x1="460.50" y1="44.68" x2="462.10" y2="44.68" stroke="#111" stroke-width="0.6"/>
<ellipse cx="461.30" cy="42.68" rx="0.90" ry="0.90" fill="#f2b61c"/>
<line x1="472.50" y1="42.20" x2="472.50" y2="46.20" stroke="#111" stroke-width="0.75"/>
<line x1="471.70" y1="42.20" x2="473.30" y2="42.20" stroke="#111" stroke-width="0.6"/>
<line x1="471.70" y1="46.20" x2="473.30" y2="46.20" stroke="#111" stroke-width="0.6"/>
<ellipse cx="472.50" cy="44.20" rx="0.90" ry="0.90" fill="#f2b61c"/>
<line x1="483.70" y1="44.50" x2="483.70" y2="48.50" stroke="#111" stroke-width="0.75"/>
<line x1="482.90" y1="44.50" x2="484.50" y2="44.50" stroke="#111" stroke-width="0.6"/>
<line x1="482.90" y1="48.50" x2="484.50" y2="48.50" stroke="#111" stroke-width="0.6"/>
<ellipse cx="483.70" cy="46.50" rx="0.90" ry="0.90" fill="#f2b61c"/>
<line x1="494.90" y1="47.32" x2="494.90" y2="51.32" stroke="#111" stroke-width="0.75"/>
<line x1="494.10" y1="47.32" x2="495.70" y2="47.32" stroke="#111" stroke-width="0.6"/>
<line x1="494.10" y1="51.32" x2="495.70" y2="51.32" stroke="#111" stroke-width="0.6"/>
<ellipse cx="494.90" cy="49.32" rx="0.90" ry="0.90" fill="#f2b61c"/>
<ellipse cx="427.70" cy="34.95" rx="0.90" ry="0.90" fill="#1f3e8a"/>
<line x1="438.90" y1="41.98" x2="438.90" y2="47.98" stroke="#111" stroke-width="0.75"/>
<line x1="438.10" y1="41.98" x2="439.70" y2="41.98" stroke="#111" stroke-width="0.6"/>
<line x1="438.10" y1="47.98" x2="439.70" y2="47.98" stroke="#111" stroke-width="0.6"/>
<ellipse cx="438.90" cy="44.98" rx="0.90" ry="0.90" fill="#1f3e8a"/>
<line x1="450.10" y1="45.72" x2="450.10" y2="59.72" stroke="#111" stroke-width="0.75"/>
<line x1="449.30" y1="45.72" x2="450.90" y2="45.72" stroke="#111" stroke-width="0.6"/>
<line x1="449.30" y1="59.72" x2="450.90" y2="59.72" stroke="#111" stroke-width="0.6"/>
<ellipse cx="450.10" cy="52.72" rx="0.90" ry="0.90" fill="#1f3e8a"/>
<line x1="461.30" y1="59.49" x2="461.30" y2="65.49" stroke="#111" stroke-width="0.75"/>
<line x1="460.50" y1="59.49" x2="462.10" y2="59.49" stroke="#111" stroke-width="0.6"/>
<line x1="460.50" y1="65.49" x2="462.10" y2="65.49" stroke="#111" stroke-width="0.6"/>
<ellipse cx="461.30" cy="62.49" rx="0.90" ry="0.90" fill="#1f3e8a"/>
<line x1="472.50" y1="72.53" x2="472.50" y2="75.53" stroke="#111" stroke-width="0.75"/>
<line x1="471.70" y1="72.53" x2="473.30" y2="72.53" stroke="#111" stroke-width="0.6"/>
<line x1="471.70" y1="75.53" x2="473.30" y2="75.53" stroke="#111" stroke-width="0.6"/>
<ellipse cx="472.50" cy="74.03" rx="0.90" ry="0.90" fill="#1f3e8a"/>
<line x1="483.70" y1="74.65" x2="483.70" y2="78.65" stroke="#111" stroke-width="0.75"/>
<line x1="482.90" y1="74.65" x2="484.50" y2="74.65" stroke="#111" stroke-width="0.6"/>
<line x1="482.90" y1="78.65" x2="484.50" y2="78.65" stroke="#111" stroke-width="0.6"/>
<ellipse cx="483.70" cy="76.65" rx="0.90" ry="0.90" fill="#1f3e8a"/>
<line x1="494.90" y1="76.94" x2="494.90" y2="80.54" stroke="#111" stroke-width="0.75"/>
<line x1="494.10" y1="76.94" x2="495.70" y2="76.94" stroke="#111" stroke-width="0.6"/>
<line x1="494.10" y1="80.54" x2="495.70" y2="80.54" stroke="#111" stroke-width="0.6"/>
<ellipse cx="494.90" cy="78.74" rx="0.90" ry="0.90" fill="#1f3e8a"/>
<text x="425.60" y="85.20" font-size="5.0" text-anchor="start" fill="#111" stroke="#111" stroke-width="0.12">HBL1-Ib<tspan dy="-2.4" font-size="3.7">R</tspan></text>
<text x="491.50" y="85.60" font-size="5.6" text-anchor="start" fill="#111" stroke="#111" stroke-width="0.12">&#956;M</text>
<line x1="411.20" y1="112.40" x2="418.40" y2="112.40" stroke="#6aaee6" stroke-width="1.0"/>
<ellipse cx="414.80" cy="112.40" rx="1.10" ry="1.10" fill="#6aaee6"/>
<text x="421.30" y="114.40" font-size="5.6" text-anchor="start" fill="#3a3a3a" textLength="19.00" lengthAdjust="spacingAndGlyphs">Alpelisib</text>
<line x1="446.00" y1="112.40" x2="453.20" y2="112.40" stroke="#c01e3e" stroke-width="1.0"/>
<ellipse cx="449.60" cy="112.40" rx="1.10" ry="1.10" fill="#c01e3e"/>
<text x="456.00" y="114.40" font-size="5.6" text-anchor="start" fill="#3a3a3a" textLength="22.40" lengthAdjust="spacingAndGlyphs">AZD6482</text>
<line x1="485.10" y1="112.40" x2="492.30" y2="112.40" stroke="#c8c8c8" stroke-width="1.0"/>
<ellipse cx="488.70" cy="112.40" rx="1.10" ry="1.10" fill="#c8c8c8"/>
<text x="494.10" y="114.40" font-size="5.6" text-anchor="start" fill="#3a3a3a" textLength="19.70" lengthAdjust="spacingAndGlyphs">Idelalisib</text>
<line x1="411.20" y1="120.10" x2="418.40" y2="120.10" stroke="#f2b61c" stroke-width="1.0"/>
<ellipse cx="414.80" cy="120.10" rx="1.10" ry="1.10" fill="#f2b61c"/>
<text x="421.30" y="122.10" font-size="5.6" text-anchor="start" fill="#3a3a3a" textLength="17.30" lengthAdjust="spacingAndGlyphs">Pictilisib</text>
<line x1="446.00" y1="120.10" x2="453.20" y2="120.10" stroke="#1f3e8a" stroke-width="1.0"/>
<ellipse cx="449.60" cy="120.10" rx="1.10" ry="1.10" fill="#1f3e8a"/>
<text x="456.00" y="122.10" font-size="5.6" text-anchor="start" fill="#3a3a3a" textLength="17.60" lengthAdjust="spacingAndGlyphs">KA2237</text>
<text x="147.70" y="143.20" font-size="6.05" text-anchor="start" fill="#111" stroke="#111" stroke-width="0.12">IC<tspan dy="1.2" font-size="3.6">50</tspan><tspan dy="-1.2"> value (&#956;M) of various PI3K-p110 isoform specific inhibitors.</tspan></text>
<line x1="148.00" y1="147.70" x2="148.00" y2="199.80" stroke="#222" stroke-width="0.9"/>
<line x1="197.30" y1="147.70" x2="197.30" y2="199.80" stroke="#222" stroke-width="0.9"/>
<line x1="234.40" y1="147.70" x2="234.40" y2="199.80" stroke="#222" stroke-width="0.9"/>
<line x1="268.60" y1="147.70" x2="268.60" y2="199.80" stroke="#222" stroke-width="0.9"/>
<line x1="298.40" y1="147.70" x2="298.40" y2="199.80" stroke="#222" stroke-width="0.9"/>
<line x1="329.60" y1="147.70" x2="329.60" y2="199.80" stroke="#222" stroke-width="0.9"/>
<line x1="361.60" y1="147.70" x2="361.60" y2="199.80" stroke="#222" stroke-width="0.9"/>
<line x1="147.55" y1="147.70" x2="362.05" y2="147.70" stroke="#222" stroke-width="0.9"/>
<line x1="147.55" y1="164.60" x2="362.05" y2="164.60" stroke="#222" stroke-width="0.9"/>
<line x1="147.55" y1="176.10" x2="362.05" y2="176.10" stroke="#222" stroke-width="0.9"/>
<line x1="147.55" y1="188.30" x2="362.05" y2="188.30" stroke="#222" stroke-width="0.9"/>
<line x1="147.55" y1="199.80" x2="362.05" y2="199.80" stroke="#222" stroke-width="0.9"/>
<text x="172.65" y="154.60" font-size="5.9" text-anchor="middle" fill="#111" stroke="#111" stroke-width="0.12">Ibrutinib-resistant</text>
<text x="172.65" y="161.70" font-size="5.9" text-anchor="middle" fill="#111" stroke="#111" stroke-width="0.12">DLBCL cell lines</text>
<text x="215.85" y="154.60" font-size="5.9" text-anchor="middle" fill="#111" stroke="#111" stroke-width="0.12">Alpelisib</text>
<text x="215.85" y="161.70" font-size="5.9" text-anchor="middle" fill="#111" stroke="#111" stroke-width="0.12">(PI3K-&#945;)</text>
<text x="251.50" y="154.60" font-size="5.9" text-anchor="middle" fill="#111" stroke="#111" stroke-width="0.12">AZD6482</text>
<text x="251.50" y="161.70" font-size="5.9" text-anchor="middle" fill="#111" stroke="#111" stroke-width="0.12">(PI3K-&#946;)</text>
<text x="283.50" y="154.60" font-size="5.9" text-anchor="middle" fill="#111" stroke="#111" stroke-width="0.12">Idelalisib</text>
<text x="283.50" y="161.70" font-size="5.9" text-anchor="middle" fill="#111" stroke="#111" stroke-width="0.12">(PI3K-&#948;)</text>
<text x="314.00" y="154.60" font-size="5.9" text-anchor="middle" fill="#111" stroke="#111" stroke-width="0.12">Pictilisib</text>
<text x="314.00" y="161.70" font-size="5.9" text-anchor="middle" fill="#111" stroke="#111" stroke-width="0.12">(PI3K-&#945;/&#948;)</text>
<text x="345.60" y="154.60" font-size="5.9" text-anchor="middle" fill="#111" stroke="#111" stroke-width="0.12">KA2237</text>
<text x="345.60" y="161.70" font-size="5.9" text-anchor="middle" fill="#111" stroke="#111" stroke-width="0.12">(PI3K-&#946;/&#948;)</text>
<text x="149.80" y="172.95" font-size="6.0" text-anchor="start" fill="#111" stroke="#111" stroke-width="0.12">OCI-LY10-Ib<tspan dy="-2.4" font-size="3.7">R</tspan></text>
<text x="204.30" y="172.55" font-size="6.4" text-anchor="start" fill="#111" stroke="#111" stroke-width="0.12"><tspan font-size="7.2" dy="0.3">&gt;</tspan><tspan dy="-0.3">2.5</tspan></text>
<text x="237.00" y="172.55" font-size="6.4" text-anchor="start" fill="#111" stroke="#111" stroke-width="0.12">1.22</text>
<text x="271.20" y="172.55" font-size="6.4" text-anchor="start" fill="#111" stroke="#111" stroke-width="0.12"><tspan font-size="7.2" dy="0.3">&gt;</tspan><tspan dy="-0.3">2.5</tspan></text>
<text x="301.00" y="172.55" font-size="6.4" text-anchor="start" fill="#111" stroke="#111" stroke-width="0.12">0.222</text>
<text x="332.20" y="172.55" font-size="6.4" text-anchor="start" fill="#111" stroke="#111" stroke-width="0.12">0.323</text>
<text x="149.80" y="184.80" font-size="6.0" text-anchor="start" fill="#111" stroke="#111" stroke-width="0.12">TMD8-Ib<tspan dy="-2.4" font-size="3.7">R</tspan></text>
<text x="204.30" y="184.40" font-size="6.4" text-anchor="start" fill="#111" stroke="#111" stroke-width="0.12"><tspan font-size="7.2" dy="0.3">&gt;</tspan><tspan dy="-0.3">2.5</tspan></text>
<text x="237.00" y="184.40" font-size="6.4" text-anchor="start" fill="#111" stroke="#111" stroke-width="0.12"><tspan font-size="7.2" dy="0.3">&gt;</tspan><tspan dy="-0.3">2.5</tspan></text>
<text x="271.20" y="184.40" font-size="6.4" text-anchor="start" fill="#111" stroke="#111" stroke-width="0.12"><tspan font-size="7.2" dy="0.3">&gt;</tspan><tspan dy="-0.3">2.5</tspan></text>
<text x="301.00" y="184.40" font-size="6.4" text-anchor="start" fill="#111" stroke="#111" stroke-width="0.12"><tspan font-size="7.2" dy="0.3">&gt;</tspan><tspan dy="-0.3">2.5</tspan></text>
<text x="332.20" y="184.40" font-size="6.4" text-anchor="start" fill="#111" stroke="#111" stroke-width="0.12">0.186</text>
<text x="149.80" y="196.65" font-size="6.0" text-anchor="start" fill="#111" stroke="#111" stroke-width="0.12">HBL1-Ib<tspan dy="-2.4" font-size="3.7">R</tspan></text>
<text x="204.30" y="196.25" font-size="6.4" text-anchor="start" fill="#111" stroke="#111" stroke-width="0.12"><tspan font-size="7.2" dy="0.3">&gt;</tspan><tspan dy="-0.3">2.5</tspan></text>
<text x="237.00" y="196.25" font-size="6.4" text-anchor="start" fill="#111" stroke="#111" stroke-width="0.12">1.46</text>
<text x="271.20" y="196.25" font-size="6.4" text-anchor="start" fill="#111" stroke="#111" stroke-width="0.12"><tspan font-size="7.2" dy="0.3">&gt;</tspan><tspan dy="-0.3">2.5</tspan></text>
<text x="301.00" y="196.25" font-size="6.4" text-anchor="start" fill="#111" stroke="#111" stroke-width="0.12"><tspan font-size="7.2" dy="0.3">&gt;</tspan><tspan dy="-0.3">2.5</tspan></text>
<text x="332.20" y="196.25" font-size="6.4" text-anchor="start" fill="#111" stroke="#111" stroke-width="0.12">0.294</text>
<text x="145.30" y="245.90" font-size="11.3" text-anchor="start" font-weight="bold" fill="#000" stroke="#000" stroke-width="0.12" textLength="7.60" lengthAdjust="spacingAndGlyphs">C</text>
<text x="187.00" y="244.20" font-size="6.2" text-anchor="start" fill="#111" stroke="#111" stroke-width="0.12" textLength="26.00" lengthAdjust="spacingAndGlyphs">TMD8-Ib<tspan dy="-2.4" font-size="3.7">R</tspan></text>
<text x="262.80" y="244.50" font-size="6.2" text-anchor="start" fill="#111" stroke="#111" stroke-width="0.12" textLength="36.40" lengthAdjust="spacingAndGlyphs">OCI-LY10-Ib<tspan dy="-2.4" font-size="3.7">R</tspan></text>
<rect x="160.90" y="249.20" width="79.40" height="13.40" fill="#9d9d9d" stroke="#2c2c2c" stroke-width="1.0"/>
<rect x="160.90" y="264.20" width="79.40" height="28.40" fill="#9d9d9d" stroke="#2c2c2c" stroke-width="1.0"/>
<rect x="161.40" y="277.40" width="78.40" height="2.80" fill="#858585"/>
<g filter="url(#bb)">
<ellipse cx="168.95" cy="257.60" rx="5.25" ry="1.00" fill="#000"/>
<ellipse cx="182.50" cy="257.70" rx="5.10" ry="1.20" fill="#000"/>
<ellipse cx="195.80" cy="257.60" rx="5.00" ry="0.80" fill="#000" fill-opacity="0.95"/>
<ellipse cx="208.85" cy="257.50" rx="4.85" ry="1.10" fill="#000"/>
<ellipse cx="222.10" cy="256.80" rx="4.60" ry="0.90" fill="#000" fill-opacity="0.95"/>
<ellipse cx="234.35" cy="256.80" rx="2.85" ry="0.65" fill="#000" fill-opacity="0.45"/>
<ellipse cx="168.05" cy="271.50" rx="5.25" ry="0.80" fill="#000" fill-opacity="0.85"/>
<ellipse cx="181.45" cy="271.20" rx="5.35" ry="0.75" fill="#000" fill-opacity="0.7"/>
<ellipse cx="195.00" cy="270.90" rx="4.70" ry="0.75" fill="#000" fill-opacity="0.8"/>
<ellipse cx="208.05" cy="270.60" rx="4.85" ry="0.75" fill="#000" fill-opacity="0.75"/>
<ellipse cx="221.45" cy="270.30" rx="4.45" ry="0.90" fill="#000" fill-opacity="0.9"/>
<ellipse cx="234.10" cy="270.10" rx="5.00" ry="0.90" fill="#000" fill-opacity="0.95"/>
<ellipse cx="168.05" cy="285.60" rx="5.25" ry="0.90" fill="#000" fill-opacity="0.9"/>
<ellipse cx="181.05" cy="285.80" rx="5.25" ry="0.80" fill="#000" fill-opacity="0.85"/>
<ellipse cx="194.35" cy="285.90" rx="5.35" ry="0.80" fill="#000" fill-opacity="0.85"/>
<ellipse cx="207.40" cy="285.90" rx="5.50" ry="0.80" fill="#000" fill-opacity="0.85"/>
<ellipse cx="220.20" cy="285.80" rx="4.80" ry="0.80" fill="#000" fill-opacity="0.85"/>
<ellipse cx="233.15" cy="285.60" rx="5.65" ry="0.90" fill="#000" fill-opacity="0.9"/>
</g>
<rect x="242.40" y="249.20" width="79.30" height="13.40" fill="#9d9d9d" stroke="#2c2c2c" stroke-width="1.0"/>
<rect x="242.40" y="264.20" width="79.30" height="28.40" fill="#9d9d9d" stroke="#2c2c2c" stroke-width="1.0"/>
<rect x="242.90" y="277.40" width="78.30" height="2.80" fill="#858585"/>
<g filter="url(#bb)">
<ellipse cx="248.05" cy="258.60" rx="4.85" ry="0.80" fill="#000" fill-opacity="0.8"/>
<ellipse cx="262.25" cy="258.40" rx="5.25" ry="0.90" fill="#000" fill-opacity="0.85"/>
<ellipse cx="275.55" cy="258.40" rx="4.85" ry="0.80" fill="#000" fill-opacity="0.8"/>
<ellipse cx="288.60" cy="258.40" rx="4.70" ry="1.00" fill="#000" fill-opacity="0.9"/>
<ellipse cx="303.45" cy="258.20" rx="4.45" ry="0.80" fill="#000" fill-opacity="0.8"/>
<ellipse cx="316.20" cy="258.40" rx="4.30" ry="0.65" fill="#000" fill-opacity="0.4"/>
<ellipse cx="250.05" cy="271.40" rx="5.25" ry="0.90" fill="#000" fill-opacity="0.9"/>
<ellipse cx="262.80" cy="271.20" rx="5.00" ry="0.90" fill="#000" fill-opacity="0.9"/>
<ellipse cx="275.70" cy="271.00" rx="5.00" ry="0.90" fill="#000" fill-opacity="0.9"/>
<ellipse cx="287.15" cy="270.80" rx="3.25" ry="1.00" fill="#000"/>
<ellipse cx="301.55" cy="270.70" rx="4.65" ry="0.80" fill="#000" fill-opacity="0.85"/>
<ellipse cx="314.65" cy="270.50" rx="4.85" ry="0.80" fill="#000" fill-opacity="0.8"/>
<ellipse cx="250.10" cy="287.50" rx="6.10" ry="0.90" fill="#000" fill-opacity="0.95"/>
<ellipse cx="263.40" cy="287.50" rx="5.60" ry="0.90" fill="#000" fill-opacity="0.95"/>
<ellipse cx="276.05" cy="287.50" rx="5.65" ry="0.90" fill="#000" fill-opacity="0.9"/>
<ellipse cx="288.70" cy="287.50" rx="5.40" ry="0.90" fill="#000" fill-opacity="0.9"/>
<ellipse cx="301.35" cy="287.50" rx="5.65" ry="0.90" fill="#000" fill-opacity="0.9"/>
<ellipse cx="314.35" cy="287.50" rx="5.65" ry="0.90" fill="#000" fill-opacity="0.95"/>
</g>
<text x="326.00" y="258.50" font-size="6.1" text-anchor="start" fill="#111" stroke="#111" stroke-width="0.12">pAKT (Ser473)</text>
<text x="326.00" y="273.40" font-size="6.1" text-anchor="start" fill="#111" stroke="#111" stroke-width="0.12">AKT</text>
<text x="326.00" y="287.80" font-size="6.1" text-anchor="start" fill="#111" stroke="#111" stroke-width="0.12">&#946;-actin</text>
<text x="170.50" y="299.60" font-size="6.4" text-anchor="end" fill="#111" stroke="#111" stroke-width="0.12" transform="rotate(-45 170.50 299.60)">Control</text>
<text x="182.60" y="299.60" font-size="6.4" text-anchor="end" fill="#111" stroke="#111" stroke-width="0.12" transform="rotate(-45 182.60 299.60)">Alpelisib</text>
<text x="196.50" y="299.60" font-size="6.4" text-anchor="end" fill="#111" stroke="#111" stroke-width="0.12" transform="rotate(-45 196.50 299.60)">AZD6482</text>
<text x="208.00" y="299.60" font-size="6.4" text-anchor="end" fill="#111" stroke="#111" stroke-width="0.12" transform="rotate(-45 208.00 299.60)">Idelalisib</text>
<text x="223.20" y="299.60" font-size="6.4" text-anchor="end" fill="#111" stroke="#111" stroke-width="0.12" transform="rotate(-45 223.20 299.60)">Pictilisib</text>
<text x="237.00" y="299.60" font-size="6.4" text-anchor="end" fill="#111" stroke="#111" stroke-width="0.12" transform="rotate(-45 237.00 299.60)">KA2237</text>
<text x="252.60" y="299.60" font-size="6.4" text-anchor="end" fill="#111" stroke="#111" stroke-width="0.12" transform="rotate(-45 252.60 299.60)">Control</text>
<text x="264.60" y="299.60" font-size="6.4" text-anchor="end" fill="#111" stroke="#111" stroke-width="0.12" transform="rotate(-45 264.60 299.60)">Alpelisib</text>
<text x="280.10" y="299.60" font-size="6.4" text-anchor="end" fill="#111" stroke="#111" stroke-width="0.12" transform="rotate(-45 280.10 299.60)">AZD6482</text>
<text x="291.60" y="299.60" font-size="6.4" text-anchor="end" fill="#111" stroke="#111" stroke-width="0.12" transform="rotate(-45 291.60 299.60)">Idelalisib</text>
<text x="303.70" y="299.60" font-size="6.4" text-anchor="end" fill="#111" stroke="#111" stroke-width="0.12" transform="rotate(-45 303.70 299.60)">Pictilisib</text>
<text x="318.50" y="299.60" font-size="6.4" text-anchor="end" fill="#111" stroke="#111" stroke-width="0.12" transform="rotate(-45 318.50 299.60)">KA2237</text>
<text x="376.60" y="165.00" font-size="11.0" text-anchor="start" font-weight="bold" fill="#000" stroke="#000" stroke-width="0.12">D</text>
<text x="399.30" y="180.00" font-size="4.9" text-anchor="start" fill="#111" stroke="#111" stroke-width="0.12">TMD8-Ib<tspan dx="0.8" dy="-2.4" font-size="3.7">R</tspan></text>
<text x="424.80" y="180.00" font-size="4.9" text-anchor="start" fill="#111" stroke="#111" stroke-width="0.12">HBL1-Ib<tspan dx="0.8" dy="-2.4" font-size="3.7">R</tspan></text>
<text x="449.00" y="180.00" font-size="4.9" text-anchor="start" fill="#111" stroke="#111" stroke-width="0.12">OCI-LY10-Ib<tspan dx="0.8" dy="-2.4" font-size="3.7">R</tspan></text>
<rect x="398.60" y="184.10" width="70.70" height="102.80" fill="#8c8c8c"/>
<rect x="399.18" y="184.67" width="21.85" height="13.35" fill="#a6a6a6" stroke="#2c2c2c" stroke-width="1.15"/>
<g filter="url(#bb)">
<ellipse cx="404.30" cy="191.00" rx="3.90" ry="0.85" fill="#000" fill-opacity="0.95"/>
<ellipse cx="414.90" cy="191.20" rx="3.90" ry="0.65" fill="#000" fill-opacity="0.18"/>
</g>
<rect x="423.38" y="184.67" width="21.15" height="13.35" fill="#b0b0b0" stroke="#2c2c2c" stroke-width="1.15"/>
<g filter="url(#bb)">
<ellipse cx="428.00" cy="190.60" rx="4.00" ry="0.70" fill="#000" fill-opacity="0.5"/>
<ellipse cx="439.00" cy="191.00" rx="4.00" ry="0.60" fill="#000" fill-opacity="0.12"/>
</g>
<rect x="446.57" y="184.67" width="22.15" height="13.35" fill="#9c9c9c" stroke="#2c2c2c" stroke-width="1.15"/>
<g filter="url(#bb)">
<ellipse cx="451.15" cy="191.40" rx="3.95" ry="0.70" fill="#000" fill-opacity="0.9"/>
</g>
<rect x="399.18" y="199.17" width="21.85" height="13.85" fill="#a8a8a8" stroke="#2c2c2c" stroke-width="1.15"/>
<g filter="url(#bb)">
<ellipse cx="404.60" cy="204.70" rx="4.20" ry="0.90" fill="#000" fill-opacity="0.9"/>
<ellipse cx="415.30" cy="204.40" rx="4.30" ry="0.90" fill="#000" fill-opacity="0.9"/>
</g>
<rect x="423.38" y="199.17" width="21.15" height="13.85" fill="#9a9a9a" stroke="#2c2c2c" stroke-width="1.15"/>
<g filter="url(#bb)">
<ellipse cx="428.45" cy="205.40" rx="4.25" ry="1.10" fill="#000" fill-opacity="0.95"/>
<ellipse cx="439.40" cy="205.40" rx="4.10" ry="1.10" fill="#000" fill-opacity="0.95"/>
</g>
<rect x="446.57" y="199.17" width="22.15" height="13.85" fill="#b0b0b0" stroke="#2c2c2c" stroke-width="1.15"/>
<g filter="url(#bb)">
<ellipse cx="451.30" cy="204.90" rx="4.00" ry="0.90" fill="#000" fill-opacity="0.9"/>
<ellipse cx="462.65" cy="204.60" rx="3.85" ry="0.90" fill="#000" fill-opacity="0.85"/>
</g>
<rect x="399.18" y="214.17" width="21.85" height="13.85" fill="#a8a8a8" stroke="#2c2c2c" stroke-width="1.15"/>
<g filter="url(#bb)">
<ellipse cx="403.80" cy="221.50" rx="4.20" ry="1.20" fill="#000" fill-opacity="0.95"/>
<ellipse cx="415.30" cy="221.80" rx="4.30" ry="0.90" fill="#000" fill-opacity="0.7"/>
<ellipse cx="405.00" cy="225.50" rx="5.00" ry="0.90" fill="#000" fill-opacity="0.2"/>
</g>
<rect x="423.38" y="214.17" width="21.15" height="13.85" fill="#b6b6b6" stroke="#2c2c2c" stroke-width="1.15"/>
<g filter="url(#bb)">
<ellipse cx="428.25" cy="220.50" rx="4.05" ry="0.90" fill="#000" fill-opacity="0.45"/>
<ellipse cx="439.40" cy="220.50" rx="4.10" ry="0.90" fill="#000" fill-opacity="0.4"/>
</g>
<rect x="446.57" y="214.17" width="22.15" height="13.85" fill="#b0b0b0" stroke="#2c2c2c" stroke-width="1.15"/>
<g filter="url(#bb)">
<ellipse cx="452.25" cy="220.00" rx="4.25" ry="1.50" fill="#000"/>
<ellipse cx="463.15" cy="220.80" rx="3.85" ry="0.90" fill="#000" fill-opacity="0.6"/>
</g>
<rect x="399.18" y="229.17" width="21.85" height="13.35" fill="#b4b4b4" stroke="#2c2c2c" stroke-width="1.15"/>
<g filter="url(#bb)">
<ellipse cx="404.00" cy="238.00" rx="4.00" ry="0.90" fill="#000" fill-opacity="0.85"/>
<ellipse cx="416.00" cy="238.00" rx="4.00" ry="0.90" fill="#000" fill-opacity="0.8"/>
</g>
<rect x="423.38" y="229.17" width="21.15" height="13.35" fill="#b4b4b4" stroke="#2c2c2c" stroke-width="1.15"/>
<g filter="url(#bb)">
<ellipse cx="427.00" cy="238.20" rx="4.00" ry="0.90" fill="#000" fill-opacity="0.8"/>
<ellipse cx="439.30" cy="237.80" rx="4.70" ry="1.30" fill="#000"/>
</g>
<rect x="446.57" y="229.17" width="22.15" height="13.35" fill="#acacac" stroke="#2c2c2c" stroke-width="1.15"/>
<g filter="url(#bb)">
<ellipse cx="451.20" cy="238.00" rx="3.80" ry="1.00" fill="#000" fill-opacity="0.95"/>
<ellipse cx="462.30" cy="237.60" rx="4.30" ry="1.40" fill="#000"/>
</g>
<rect x="399.18" y="243.67" width="21.85" height="13.45" fill="#8e8e8e" stroke="#2c2c2c" stroke-width="1.15"/>
<g filter="url(#bb)">
<ellipse cx="404.05" cy="251.10" rx="3.25" ry="1.00" fill="#000" fill-opacity="0.95"/>
<ellipse cx="414.60" cy="251.10" rx="3.40" ry="0.70" fill="#000" fill-opacity="0.15"/>
</g>
<rect x="423.38" y="243.67" width="21.15" height="13.45" fill="#b4b4b4" stroke="#2c2c2c" stroke-width="1.15"/>
<g filter="url(#bb)">
<ellipse cx="427.75" cy="251.10" rx="4.25" ry="0.80" fill="#000" fill-opacity="0.6"/>
<ellipse cx="439.15" cy="251.10" rx="3.85" ry="0.75" fill="#000" fill-opacity="0.45"/>
</g>
<rect x="446.57" y="243.67" width="22.15" height="13.45" fill="#b0b0b0" stroke="#2c2c2c" stroke-width="1.15"/>
<g filter="url(#bb)">
<ellipse cx="452.65" cy="251.10" rx="3.85" ry="0.90" fill="#000" fill-opacity="0.85"/>
<ellipse cx="463.30" cy="251.10" rx="3.70" ry="0.60" fill="#000" fill-opacity="0.2"/>
</g>
<rect x="399.18" y="258.27" width="21.85" height="13.45" fill="#a4a4a4" stroke="#2c2c2c" stroke-width="1.15"/>
<g filter="url(#bb)">
<ellipse cx="405.00" cy="264.30" rx="3.80" ry="0.75" fill="#000" fill-opacity="0.75"/>
<ellipse cx="415.00" cy="264.30" rx="3.80" ry="0.75" fill="#000" fill-opacity="0.75"/>
</g>
<rect x="423.38" y="258.27" width="21.15" height="13.45" fill="#8e8e8e" stroke="#2c2c2c" stroke-width="1.15"/>
<g filter="url(#bb)">
<ellipse cx="427.95" cy="265.00" rx="4.05" ry="0.90" fill="#000" fill-opacity="0.85"/>
<ellipse cx="439.40" cy="264.20" rx="4.10" ry="0.80" fill="#000" fill-opacity="0.7"/>
</g>
<rect x="446.57" y="258.27" width="22.15" height="13.45" fill="#a8a8a8" stroke="#2c2c2c" stroke-width="1.15"/>
<g filter="url(#bb)">
<ellipse cx="452.65" cy="264.60" rx="3.85" ry="0.75" fill="#000" fill-opacity="0.75"/>
<ellipse cx="462.15" cy="264.60" rx="4.35" ry="0.75" fill="#000" fill-opacity="0.75"/>
</g>
<rect x="399.18" y="272.88" width="21.85" height="13.45" fill="#a8a8a8" stroke="#2c2c2c" stroke-width="1.15"/>
<g filter="url(#bb)">
<ellipse cx="404.60" cy="280.30" rx="4.20" ry="0.90" fill="#000" fill-opacity="0.9"/>
<ellipse cx="415.00" cy="279.90" rx="4.60" ry="0.90" fill="#000" fill-opacity="0.9"/>
</g>
<rect x="423.38" y="272.88" width="21.15" height="13.45" fill="#acacac" stroke="#2c2c2c" stroke-width="1.15"/>
<g filter="url(#bb)">
<ellipse cx="428.10" cy="279.70" rx="4.60" ry="0.90" fill="#000" fill-opacity="0.9"/>
<ellipse cx="439.55" cy="279.70" rx="4.25" ry="0.90" fill="#000" fill-opacity="0.9"/>
</g>
<rect x="446.57" y="272.88" width="22.15" height="13.45" fill="#a8a8a8" stroke="#2c2c2c" stroke-width="1.15"/>
<g filter="url(#bb)">
<ellipse cx="452.25" cy="281.50" rx="4.25" ry="0.90" fill="#000" fill-opacity="0.9"/>
<ellipse cx="462.00" cy="281.30" rx="4.00" ry="0.90" fill="#000" fill-opacity="0.9"/>
</g>
<rect x="398.60" y="242.20" width="46.50" height="1.60" fill="#111"/>
<text x="472.40" y="190.15" font-size="6.3" text-anchor="start" fill="#111" stroke="#111" stroke-width="0.12">pAKT</text>
<text x="472.40" y="196.95" font-size="6.3" text-anchor="start" fill="#111" stroke="#111" stroke-width="0.12">(Ser473)</text>
<text x="472.40" y="208.30" font-size="6.3" text-anchor="start" fill="#111" stroke="#111" stroke-width="0.12">AKT</text>
<text x="472.40" y="219.90" font-size="6.3" text-anchor="start" fill="#111" stroke="#111" stroke-width="0.12">p-mTOR</text>
<text x="472.40" y="226.70" font-size="6.3" text-anchor="start" fill="#111" stroke="#111" stroke-width="0.12">Ser2448</text>
<text x="472.40" y="238.05" font-size="6.3" text-anchor="start" fill="#111" stroke="#111" stroke-width="0.12">mTOR</text>
<text x="472.40" y="252.60" font-size="6.3" text-anchor="start" fill="#111" stroke="#111" stroke-width="0.12">p-P70S6K</text>
<text x="472.40" y="267.20" font-size="6.3" text-anchor="start" fill="#111" stroke="#111" stroke-width="0.12">P70S6K</text>
<text x="472.40" y="281.80" font-size="6.3" text-anchor="start" fill="#111" stroke="#111" stroke-width="0.12">&#946;-actin</text>
<text x="376.30" y="295.60" font-size="6.3" text-anchor="start" fill="#111" stroke="#111" stroke-width="0.12">KA2237</text>
<text x="404.00" y="295.60" font-size="6.3" text-anchor="middle" fill="#111" stroke="#111" stroke-width="0.12">-</text>
<text x="414.70" y="295.60" font-size="6.3" text-anchor="middle" fill="#111" stroke="#111" stroke-width="0.12">+</text>
<text x="429.00" y="295.60" font-size="6.3" text-anchor="middle" fill="#111" stroke="#111" stroke-width="0.12">-</text>
<text x="440.00" y="295.60" font-size="6.3" text-anchor="middle" fill="#111" stroke="#111" stroke-width="0.12">+</text>
<text x="453.60" y="295.60" font-size="6.3" text-anchor="middle" fill="#111" stroke="#111" stroke-width="0.12">-</text>
<text x="462.20" y="295.60" font-size="6.3" text-anchor="middle" fill="#111" stroke="#111" stroke-width="0.12">+</text>
</svg>
</body></html>
